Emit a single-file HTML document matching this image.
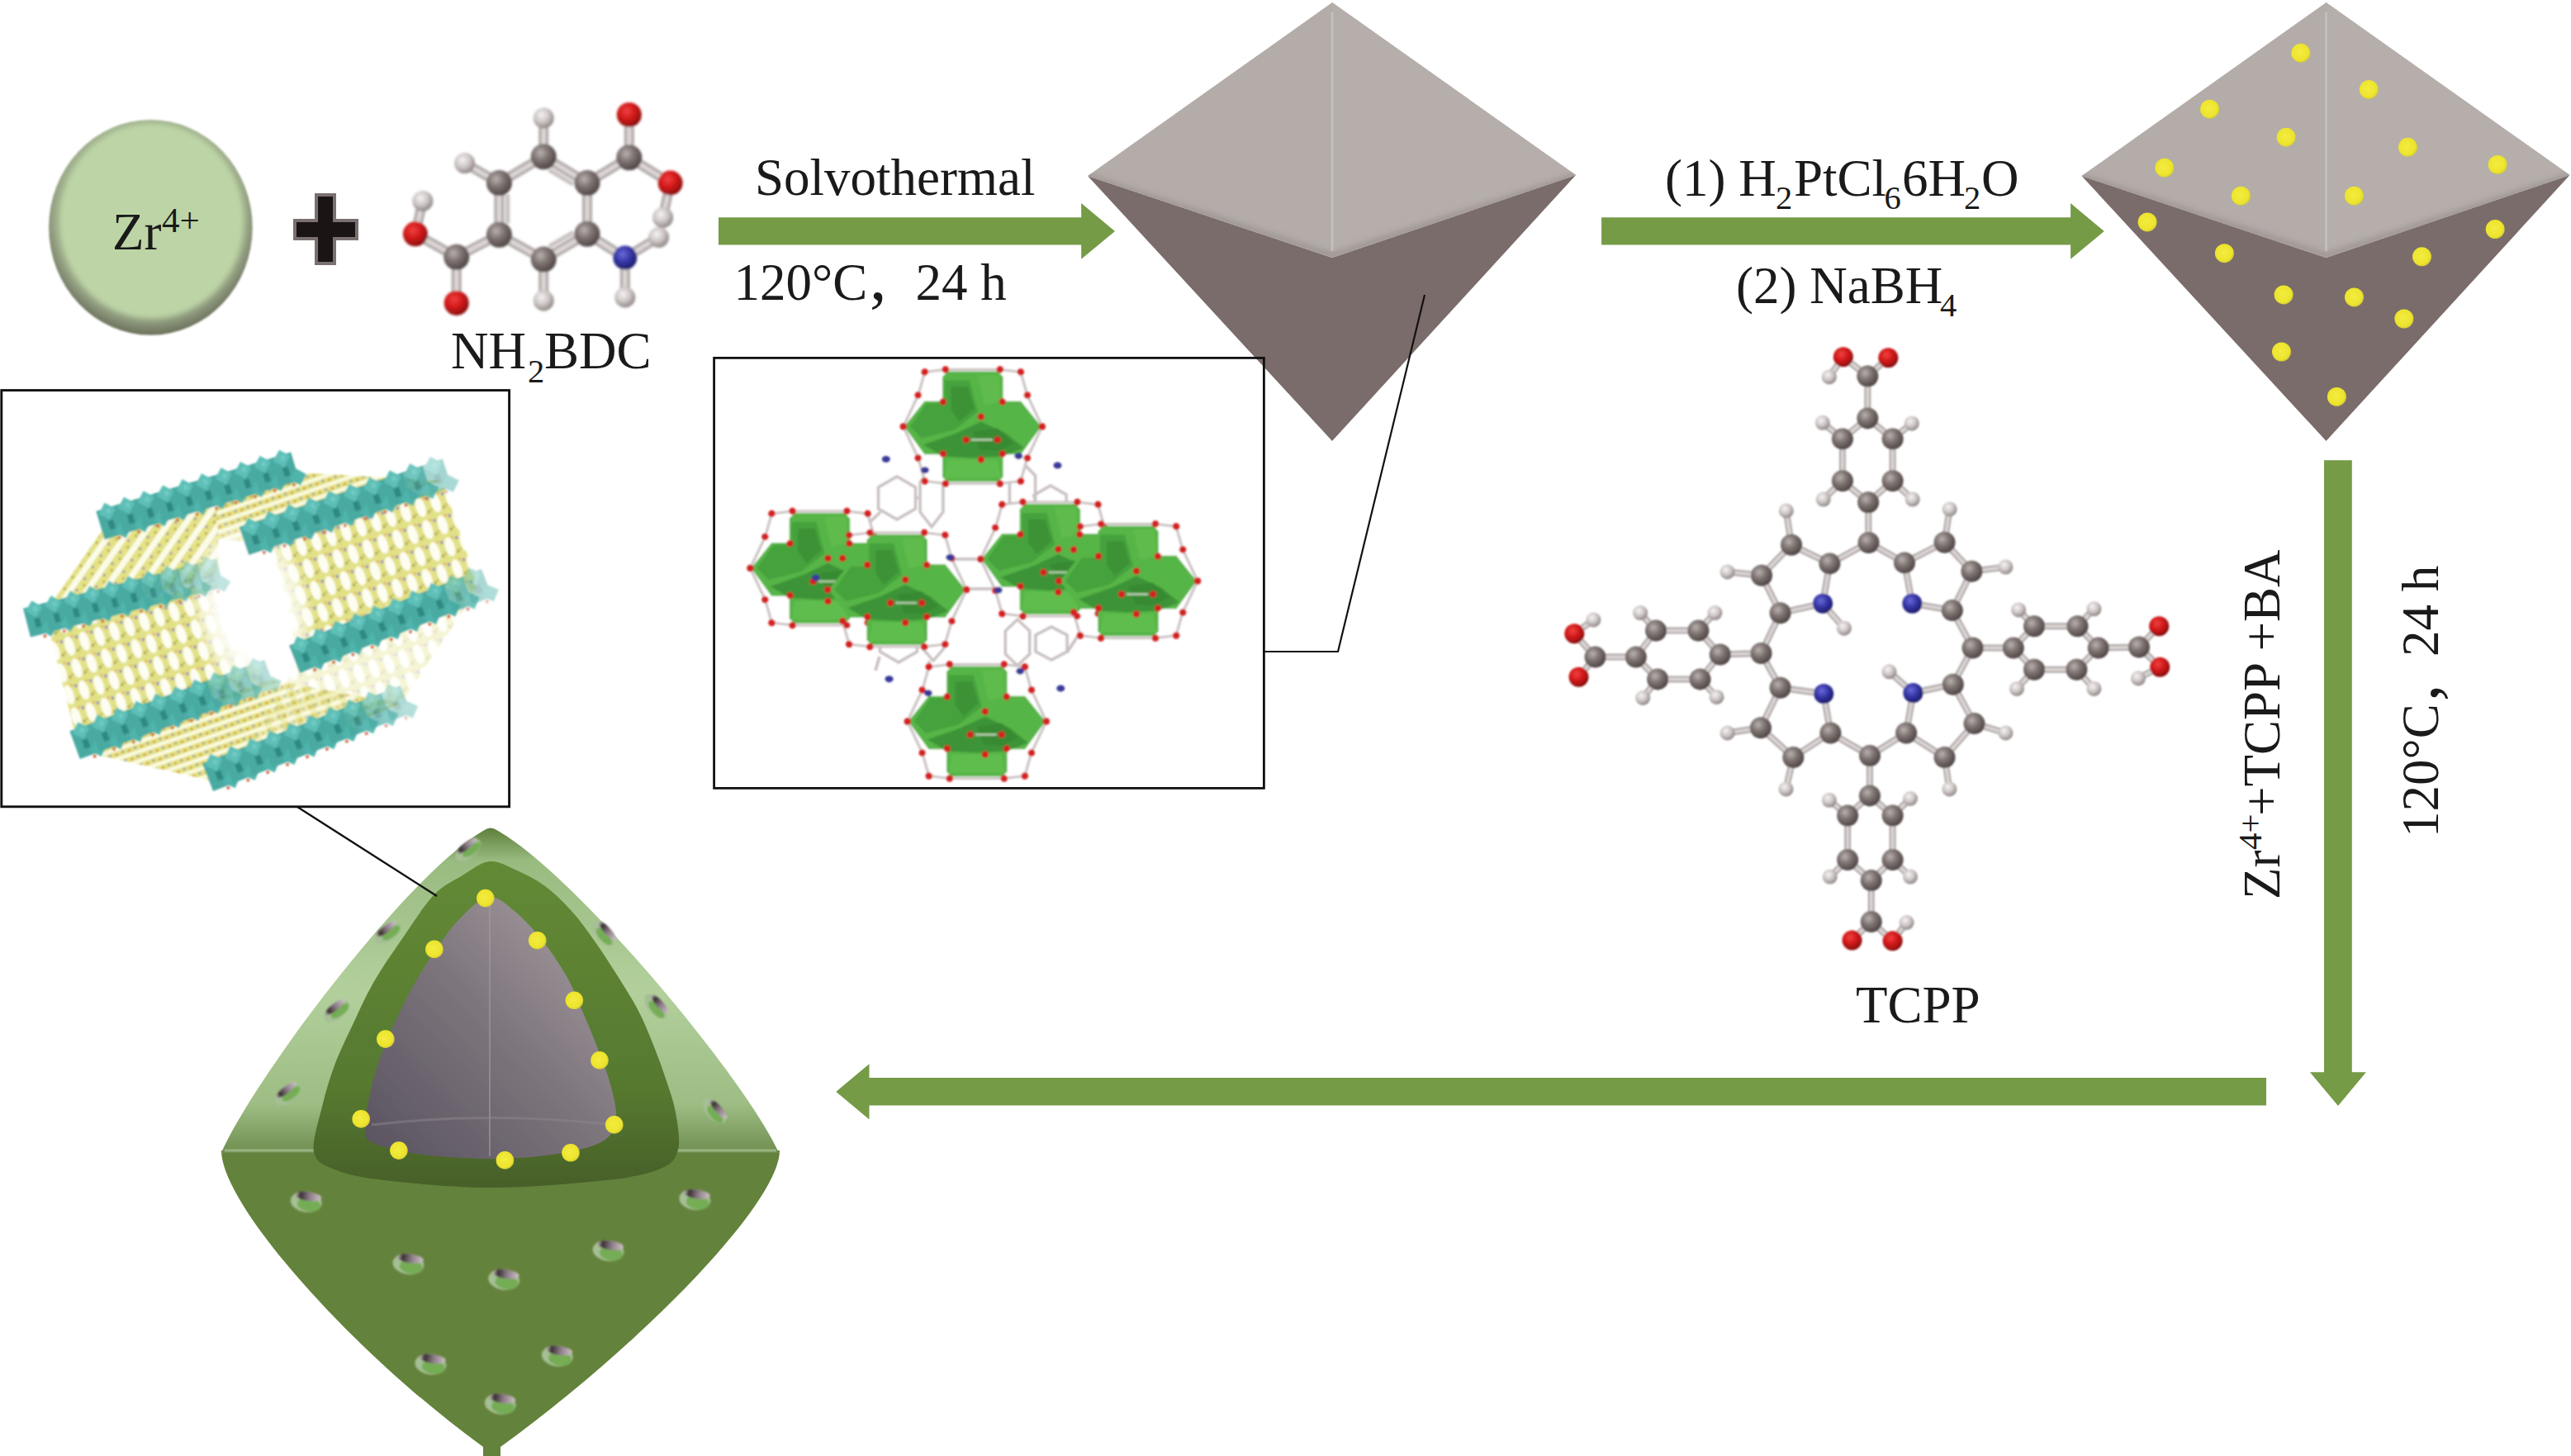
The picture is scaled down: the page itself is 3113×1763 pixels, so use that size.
<!DOCTYPE html>
<html><head><meta charset="utf-8"><title>Pt@UiO-66-NH2@MOF scheme</title>
<style>html,body{margin:0;padding:0;background:#fff;width:3113px;height:1763px;overflow:hidden}svg{display:block}</style>
</head><body>
<svg width="3113" height="1763" viewBox="0 0 3113 1763">
<defs>
 <radialGradient id="gC" cx="0.38" cy="0.35" r="0.7">
  <stop offset="0" stop-color="#b9b1b0"/><stop offset="0.45" stop-color="#7d7371"/><stop offset="1" stop-color="#4a4040"/>
 </radialGradient>
 <radialGradient id="gH" cx="0.4" cy="0.35" r="0.7">
  <stop offset="0" stop-color="#f6f4f4"/><stop offset="0.5" stop-color="#cdc6c5"/><stop offset="1" stop-color="#857d7c"/>
 </radialGradient>
 <radialGradient id="gO" cx="0.4" cy="0.35" r="0.7">
  <stop offset="0" stop-color="#f04040"/><stop offset="0.5" stop-color="#d01818"/><stop offset="1" stop-color="#7a0c0c"/>
 </radialGradient>
 <radialGradient id="gN" cx="0.4" cy="0.35" r="0.7">
  <stop offset="0" stop-color="#6a6ad8"/><stop offset="0.5" stop-color="#3434a4"/><stop offset="1" stop-color="#1a1a60"/>
 </radialGradient>
 <radialGradient id="gY" cx="0.45" cy="0.45" r="0.6">
  <stop offset="0" stop-color="#f4ec40"/><stop offset="0.75" stop-color="#ece42c"/><stop offset="1" stop-color="#c8c040"/>
 </radialGradient>
 <radialGradient id="gZr" cx="0.5" cy="0.42" r="0.56">
  <stop offset="0" stop-color="#bdd5a6"/><stop offset="0.86" stop-color="#bbd3a4"/><stop offset="0.95" stop-color="#8d9c7a"/><stop offset="1" stop-color="#ffffff" stop-opacity="0"/>
 </radialGradient>
 <linearGradient id="gUL" x1="0" y1="0" x2="1" y2="1">
  <stop offset="0" stop-color="#b4adaa"/><stop offset="1" stop-color="#aea6a4"/>
 </linearGradient>
 <filter id="blur1" x="-10%" y="-10%" width="120%" height="120%"><feGaussianBlur stdDeviation="1.2"/></filter>
 <filter id="blur2" x="-20%" y="-20%" width="140%" height="140%"><feGaussianBlur stdDeviation="3"/></filter>
 <filter id="blur05"><feGaussianBlur stdDeviation="0.7"/></filter>
 <filter id="blur15" x="-10%" y="-10%" width="120%" height="120%"><feGaussianBlur stdDeviation="1.6"/></filter>
</defs>
<radialGradient id="gZrO" cx="0.5" cy="0.45" r="0.55"><stop offset="0.72" stop-color="#b6cea1"/><stop offset="0.86" stop-color="#9aa888"/><stop offset="0.95" stop-color="#7b836b"/><stop offset="1" stop-color="#6c725a"/></radialGradient><g filter="url(#blur1)"><ellipse cx="182.4" cy="275.4" rx="123.3" ry="130.4" fill="url(#gZrO)"/></g><filter id="blurZ" x="-20%" y="-20%" width="140%" height="140%"><feGaussianBlur stdDeviation="3"/></filter><g filter="url(#blurZ)"><ellipse cx="183.5" cy="268" rx="111" ry="117" fill="#bdd5a6"/></g><text x="136.0" y="302.0" font-size="63" font-family="'Liberation Serif', serif" fill="#1a1a1a" >Zr</text><text x="196.0" y="280.5" font-size="43" font-family="'Liberation Serif', serif" fill="#1a1a1a" >4+</text><rect x="381" y="234" width="26" height="87" fill="#7a7070"/><rect x="355" y="265" width="79" height="26" fill="#7a7070"/><rect x="385" y="238" width="18" height="79" fill="#1a1414"/><rect x="359" y="269" width="71" height="18" fill="#1a1414"/><g filter="url(#blur15)"><line x1="658.2" y1="189.7" x2="604.4" y2="221.5" stroke="#b0a8a8" stroke-width="12.0"/><line x1="658.2" y1="189.7" x2="604.4" y2="221.5" stroke="#dcd6d5" stroke-width="5.4"/><line x1="658.2" y1="189.7" x2="711.0" y2="221.5" stroke="#b0a8a8" stroke-width="12.0"/><line x1="658.2" y1="189.7" x2="711.0" y2="221.5" stroke="#dcd6d5" stroke-width="5.4"/><line x1="604.4" y1="221.5" x2="604.4" y2="284.3" stroke="#b0a8a8" stroke-width="12.0"/><line x1="604.4" y1="221.5" x2="604.4" y2="284.3" stroke="#dcd6d5" stroke-width="5.4"/><line x1="711.0" y1="221.5" x2="711.0" y2="283.3" stroke="#b0a8a8" stroke-width="12.0"/><line x1="711.0" y1="221.5" x2="711.0" y2="283.3" stroke="#dcd6d5" stroke-width="5.4"/><line x1="604.4" y1="284.3" x2="658.2" y2="314.1" stroke="#b0a8a8" stroke-width="12.0"/><line x1="604.4" y1="284.3" x2="658.2" y2="314.1" stroke="#dcd6d5" stroke-width="5.4"/><line x1="711.0" y1="283.3" x2="658.2" y2="314.1" stroke="#b0a8a8" stroke-width="12.0"/><line x1="711.0" y1="283.3" x2="658.2" y2="314.1" stroke="#dcd6d5" stroke-width="5.4"/><line x1="658.2" y1="189.7" x2="658.2" y2="142.9" stroke="#b0a8a8" stroke-width="12.0"/><line x1="658.2" y1="189.7" x2="658.2" y2="142.9" stroke="#dcd6d5" stroke-width="5.4"/><line x1="604.4" y1="221.5" x2="562.6" y2="197.6" stroke="#b0a8a8" stroke-width="12.0"/><line x1="604.4" y1="221.5" x2="562.6" y2="197.6" stroke="#dcd6d5" stroke-width="5.4"/><line x1="711.0" y1="221.5" x2="761.8" y2="190.7" stroke="#b0a8a8" stroke-width="12.0"/><line x1="711.0" y1="221.5" x2="761.8" y2="190.7" stroke="#dcd6d5" stroke-width="5.4"/><line x1="761.8" y1="190.7" x2="761.8" y2="138.9" stroke="#b0a8a8" stroke-width="12.0"/><line x1="761.8" y1="190.7" x2="761.8" y2="138.9" stroke="#dcd6d5" stroke-width="5.4"/><line x1="761.8" y1="190.7" x2="811.6" y2="221.5" stroke="#b0a8a8" stroke-width="12.0"/><line x1="761.8" y1="190.7" x2="811.6" y2="221.5" stroke="#dcd6d5" stroke-width="5.4"/><line x1="811.6" y1="221.5" x2="802.6" y2="263.4" stroke="#b0a8a8" stroke-width="12.0"/><line x1="811.6" y1="221.5" x2="802.6" y2="263.4" stroke="#dcd6d5" stroke-width="5.4"/><line x1="711.0" y1="283.3" x2="756.8" y2="312.1" stroke="#b0a8a8" stroke-width="12.0"/><line x1="711.0" y1="283.3" x2="756.8" y2="312.1" stroke="#dcd6d5" stroke-width="5.4"/><line x1="756.8" y1="312.1" x2="797.6" y2="287.3" stroke="#b0a8a8" stroke-width="12.0"/><line x1="756.8" y1="312.1" x2="797.6" y2="287.3" stroke="#dcd6d5" stroke-width="5.4"/><line x1="756.8" y1="312.1" x2="756.8" y2="360.0" stroke="#b0a8a8" stroke-width="12.0"/><line x1="756.8" y1="312.1" x2="756.8" y2="360.0" stroke="#dcd6d5" stroke-width="5.4"/><line x1="658.2" y1="314.1" x2="658.2" y2="363.9" stroke="#b0a8a8" stroke-width="12.0"/><line x1="658.2" y1="314.1" x2="658.2" y2="363.9" stroke="#dcd6d5" stroke-width="5.4"/><line x1="604.4" y1="284.3" x2="552.7" y2="311.2" stroke="#b0a8a8" stroke-width="12.0"/><line x1="604.4" y1="284.3" x2="552.7" y2="311.2" stroke="#dcd6d5" stroke-width="5.4"/><line x1="552.7" y1="311.2" x2="552.7" y2="366.9" stroke="#b0a8a8" stroke-width="12.0"/><line x1="552.7" y1="311.2" x2="552.7" y2="366.9" stroke="#dcd6d5" stroke-width="5.4"/><line x1="552.7" y1="311.2" x2="502.9" y2="283.3" stroke="#b0a8a8" stroke-width="12.0"/><line x1="552.7" y1="311.2" x2="502.9" y2="283.3" stroke="#dcd6d5" stroke-width="5.4"/><line x1="502.9" y1="283.3" x2="511.8" y2="243.4" stroke="#b0a8a8" stroke-width="12.0"/><line x1="502.9" y1="283.3" x2="511.8" y2="243.4" stroke="#dcd6d5" stroke-width="5.4"/><line x1="664.6" y1="205.4" x2="694.1" y2="223.2" stroke="#c9c2c2" stroke-width="5.4"/><line x1="614.6" y1="235.3" x2="614.6" y2="270.5" stroke="#c9c2c2" stroke-width="5.4"/><line x1="694.2" y1="281.3" x2="664.7" y2="298.5" stroke="#c9c2c2" stroke-width="5.4"/><circle cx="761.8" cy="138.9" r="15.0" fill="url(#gO)"/><circle cx="761.8" cy="190.7" r="15.5" fill="url(#gC)"/><circle cx="811.6" cy="221.5" r="15.0" fill="url(#gO)"/><circle cx="802.6" cy="263.4" r="12.5" fill="url(#gH)"/><circle cx="658.2" cy="189.7" r="15.5" fill="url(#gC)"/><circle cx="658.2" cy="142.9" r="12.5" fill="url(#gH)"/><circle cx="604.4" cy="221.5" r="15.5" fill="url(#gC)"/><circle cx="562.6" cy="197.6" r="12.5" fill="url(#gH)"/><circle cx="711.0" cy="221.5" r="15.5" fill="url(#gC)"/><circle cx="604.4" cy="284.3" r="15.5" fill="url(#gC)"/><circle cx="711.0" cy="283.3" r="15.5" fill="url(#gC)"/><circle cx="658.2" cy="314.1" r="15.5" fill="url(#gC)"/><circle cx="658.2" cy="363.9" r="12.5" fill="url(#gH)"/><circle cx="756.8" cy="312.1" r="14.5" fill="url(#gN)"/><circle cx="797.6" cy="287.3" r="12.5" fill="url(#gH)"/><circle cx="756.8" cy="360.0" r="12.5" fill="url(#gH)"/><circle cx="552.7" cy="311.2" r="15.5" fill="url(#gC)"/><circle cx="552.7" cy="366.9" r="15.0" fill="url(#gO)"/><circle cx="502.9" cy="283.3" r="15.0" fill="url(#gO)"/><circle cx="511.8" cy="243.4" r="12.5" fill="url(#gH)"/></g><text x="546.0" y="446.0" font-size="63" font-family="'Liberation Serif', serif" fill="#1a1a1a" >NH</text><text x="639.0" y="462.5" font-size="40.5" font-family="'Liberation Serif', serif" fill="#1a1a1a" >2</text><text x="659.0" y="446.0" font-size="63" font-family="'Liberation Serif', serif" fill="#1a1a1a" >BDC</text><polygon points="870.0,263.2 1309.2,263.2 1309.2,246.1 1350.0,280.0 1309.2,313.8 1309.2,296.5 870.0,296.5" fill="#759b46" /><polygon points="1939.1,263.2 2507.1,263.2 2507.1,246.1 2547.7,280.0 2507.1,313.8 2507.1,296.6 1939.1,296.6" fill="#759b46" /><polygon points="2814.0,557.3 2847.8,557.3 2847.8,1298.3 2864.9,1298.3 2831.0,1339.0 2796.9,1298.3 2814.0,1298.3" fill="#759b46" /><polygon points="2744.0,1305.1 1052.5,1305.1 1052.5,1288.2 1012.3,1321.9 1052.5,1355.5 1052.5,1338.5 2744.0,1338.5" fill="#759b46" /><text x="914.0" y="236.0" font-size="63" font-family="'Liberation Serif', serif" fill="#1a1a1a" >Solvothermal</text><text x="888.5" y="363.0" font-size="63" font-family="'Liberation Serif', serif" fill="#1a1a1a" >120°C</text><text x="1053.0" y="363.0" font-size="82" font-family="'Liberation Serif', serif" fill="#1a1a1a" >,</text><text x="1108.5" y="363.0" font-size="63" font-family="'Liberation Serif', serif" fill="#1a1a1a" >24 h</text><text x="2016.0" y="237.0" font-size="63" font-family="'Liberation Serif', serif" fill="#1a1a1a" >(1) H</text><text x="2150.0" y="253.4" font-size="40.5" font-family="'Liberation Serif', serif" fill="#1a1a1a" >2</text><text x="2172.0" y="237.0" font-size="63" font-family="'Liberation Serif', serif" fill="#1a1a1a" >PtCl</text><text x="2281.5" y="253.4" font-size="40.5" font-family="'Liberation Serif', serif" fill="#1a1a1a" >6</text><text x="2303.0" y="237.0" font-size="63" font-family="'Liberation Serif', serif" fill="#1a1a1a" >6H</text><text x="2378.0" y="253.4" font-size="40.5" font-family="'Liberation Serif', serif" fill="#1a1a1a" >2</text><text x="2399.0" y="237.0" font-size="63" font-family="'Liberation Serif', serif" fill="#1a1a1a" >O</text><text x="2102.0" y="367.0" font-size="63" font-family="'Liberation Serif', serif" fill="#1a1a1a" >(2) NaBH</text><text x="2349.0" y="382.6" font-size="40.5" font-family="'Liberation Serif', serif" fill="#1a1a1a" >4</text><g transform="translate(2759.6,1089) rotate(-90)"><text x="0.0" y="0.0" font-size="63" font-family="'Liberation Serif', serif" fill="#1a1a1a" >Zr</text><text x="60.0" y="-22.0" font-size="41" font-family="'Liberation Serif', serif" fill="#1a1a1a" >4+</text><text x="101.0" y="0.0" font-size="63" font-family="'Liberation Serif', serif" fill="#1a1a1a" >+TCPP +BA</text></g><g transform="translate(2951.9,1014) rotate(-90)"><text x="0.0" y="0.0" font-size="63" font-family="'Liberation Serif', serif" fill="#1a1a1a" >120°C</text><text x="165.0" y="0.0" font-size="82" font-family="'Liberation Serif', serif" fill="#1a1a1a" >,</text><text x="219.0" y="0.0" font-size="63" font-family="'Liberation Serif', serif" fill="#1a1a1a" >24 h</text></g><text x="2247.0" y="1238.0" font-size="63" font-family="'Liberation Serif', serif" fill="#1a1a1a" >TCPP</text><clipPath id="oc0"><polygon points="1613.0,3.0 1317.0,213.0 1613.0,312.0 1908.0,212.0"/></clipPath><polygon points="1317.0,213.0 1613.0,312.0 1908.0,212.0 1613.0,534.0" fill="#7a6c6a" /><polygon points="1613.0,3.0 1317.0,213.0 1613.0,312.0 1908.0,212.0" fill="#b3aca9" /><polygon points="1613.0,3.0 1613.0,312.0 1908.0,212.0" fill="#b5aeab" /><g clip-path="url(#oc0)"><polyline points="1307.0,211.0 1613.0,310.0 1918.0,210.0" fill="none" stroke="#9e9592" stroke-width="8" filter="url(#blur2)" opacity="0.9"/></g><line x1="1613.0" y1="15.0" x2="1613.0" y2="304.0" stroke="#c6c0be" stroke-width="2.6"/><clipPath id="oc1203"><polygon points="2816.5,3.0 2520.5,213.0 2816.5,312.0 3111.5,212.0"/></clipPath><polygon points="2520.5,213.0 2816.5,312.0 3111.5,212.0 2816.5,534.0" fill="#7a6c6a" /><polygon points="2816.5,3.0 2520.5,213.0 2816.5,312.0 3111.5,212.0" fill="#b3aca9" /><polygon points="2816.5,3.0 2816.5,312.0 3111.5,212.0" fill="#b5aeab" /><g clip-path="url(#oc1203)"><polyline points="2510.5,211.0 2816.5,310.0 3121.5,210.0" fill="none" stroke="#9e9592" stroke-width="8" filter="url(#blur2)" opacity="0.9"/></g><line x1="2816.5" y1="15.0" x2="2816.5" y2="304.0" stroke="#c6c0be" stroke-width="2.6"/><circle cx="2785.9" cy="64.2" r="11.5" fill="url(#gY)"/><circle cx="2868.3" cy="108.4" r="11.5" fill="url(#gY)"/><circle cx="2675.6" cy="132.2" r="11.5" fill="url(#gY)"/><circle cx="2768.2" cy="166.2" r="11.5" fill="url(#gY)"/><circle cx="2915.5" cy="178.3" r="11.5" fill="url(#gY)"/><circle cx="2620.9" cy="203.2" r="11.5" fill="url(#gY)"/><circle cx="3024.2" cy="199.4" r="11.5" fill="url(#gY)"/><circle cx="2713.4" cy="237.2" r="11.5" fill="url(#gY)"/><circle cx="2850.5" cy="237.2" r="11.5" fill="url(#gY)"/><circle cx="2600.1" cy="268.9" r="11.5" fill="url(#gY)"/><circle cx="3021.2" cy="277.6" r="11.5" fill="url(#gY)"/><circle cx="2693.4" cy="306.7" r="11.5" fill="url(#gY)"/><circle cx="2932.5" cy="310.8" r="11.5" fill="url(#gY)"/><circle cx="2765.1" cy="356.9" r="11.5" fill="url(#gY)"/><circle cx="2850.5" cy="359.9" r="11.5" fill="url(#gY)"/><circle cx="2910.9" cy="386.0" r="11.5" fill="url(#gY)"/><circle cx="2762.5" cy="426.0" r="11.5" fill="url(#gY)"/><circle cx="2829.4" cy="480.4" r="11.5" fill="url(#gY)"/><rect x="864.6" y="433.4" width="665.8" height="521" fill="none" stroke="#111" stroke-width="2.8"/><polyline points="1530.5,789 1620,789 1725,357" fill="none" stroke="#111" stroke-width="2.2"/><rect x="1.8" y="472.6" width="614.8" height="504.2" fill="none" stroke="#111" stroke-width="2.9"/><g filter="url(#blur1)"><line x1="2231.8" y1="432.3" x2="2261.3" y2="455.5" stroke="#b0a8a8" stroke-width="8.0"/><line x1="2231.8" y1="432.3" x2="2261.3" y2="455.5" stroke="#dcd6d5" stroke-width="3.6"/><line x1="2261.3" y1="455.5" x2="2286.3" y2="433.2" stroke="#b0a8a8" stroke-width="8.0"/><line x1="2261.3" y1="455.5" x2="2286.3" y2="433.2" stroke="#dcd6d5" stroke-width="3.6"/><line x1="2231.8" y1="432.3" x2="2214.8" y2="456.4" stroke="#b0a8a8" stroke-width="8.0"/><line x1="2231.8" y1="432.3" x2="2214.8" y2="456.4" stroke="#dcd6d5" stroke-width="3.6"/><line x1="2261.3" y1="455.5" x2="2261.3" y2="506.4" stroke="#b0a8a8" stroke-width="8.0"/><line x1="2261.3" y1="455.5" x2="2261.3" y2="506.4" stroke="#dcd6d5" stroke-width="3.6"/><line x1="2261.3" y1="506.4" x2="2230.9" y2="531.4" stroke="#b0a8a8" stroke-width="8.0"/><line x1="2261.3" y1="506.4" x2="2230.9" y2="531.4" stroke="#dcd6d5" stroke-width="3.6"/><line x1="2230.9" y1="531.4" x2="2230.9" y2="582.3" stroke="#b0a8a8" stroke-width="8.0"/><line x1="2230.9" y1="531.4" x2="2230.9" y2="582.3" stroke="#dcd6d5" stroke-width="3.6"/><line x1="2230.9" y1="582.3" x2="2262.1" y2="608.2" stroke="#b0a8a8" stroke-width="8.0"/><line x1="2230.9" y1="582.3" x2="2262.1" y2="608.2" stroke="#dcd6d5" stroke-width="3.6"/><line x1="2262.1" y1="608.2" x2="2291.6" y2="582.3" stroke="#b0a8a8" stroke-width="8.0"/><line x1="2262.1" y1="608.2" x2="2291.6" y2="582.3" stroke="#dcd6d5" stroke-width="3.6"/><line x1="2291.6" y1="582.3" x2="2291.6" y2="531.4" stroke="#b0a8a8" stroke-width="8.0"/><line x1="2291.6" y1="582.3" x2="2291.6" y2="531.4" stroke="#dcd6d5" stroke-width="3.6"/><line x1="2291.6" y1="531.4" x2="2261.3" y2="506.4" stroke="#b0a8a8" stroke-width="8.0"/><line x1="2291.6" y1="531.4" x2="2261.3" y2="506.4" stroke="#dcd6d5" stroke-width="3.6"/><line x1="2230.9" y1="531.4" x2="2206.8" y2="511.8" stroke="#b0a8a8" stroke-width="8.0"/><line x1="2230.9" y1="531.4" x2="2206.8" y2="511.8" stroke="#dcd6d5" stroke-width="3.6"/><line x1="2291.6" y1="531.4" x2="2314.8" y2="512.7" stroke="#b0a8a8" stroke-width="8.0"/><line x1="2291.6" y1="531.4" x2="2314.8" y2="512.7" stroke="#dcd6d5" stroke-width="3.6"/><line x1="2230.9" y1="582.3" x2="2207.7" y2="604.6" stroke="#b0a8a8" stroke-width="8.0"/><line x1="2230.9" y1="582.3" x2="2207.7" y2="604.6" stroke="#dcd6d5" stroke-width="3.6"/><line x1="2291.6" y1="582.3" x2="2315.7" y2="604.6" stroke="#b0a8a8" stroke-width="8.0"/><line x1="2291.6" y1="582.3" x2="2315.7" y2="604.6" stroke="#dcd6d5" stroke-width="3.6"/><line x1="2262.1" y1="608.2" x2="2262.5" y2="657.0" stroke="#b0a8a8" stroke-width="8.0"/><line x1="2262.1" y1="608.2" x2="2262.5" y2="657.0" stroke="#dcd6d5" stroke-width="3.6"/><line x1="1906.3" y1="767.3" x2="1931.5" y2="795.6" stroke="#b0a8a8" stroke-width="8.0"/><line x1="1906.3" y1="767.3" x2="1931.5" y2="795.6" stroke="#dcd6d5" stroke-width="3.6"/><line x1="1931.5" y1="795.6" x2="1911.5" y2="819.8" stroke="#b0a8a8" stroke-width="8.0"/><line x1="1931.5" y1="795.6" x2="1911.5" y2="819.8" stroke="#dcd6d5" stroke-width="3.6"/><line x1="1906.3" y1="767.3" x2="1929.4" y2="750.5" stroke="#b0a8a8" stroke-width="8.0"/><line x1="1906.3" y1="767.3" x2="1929.4" y2="750.5" stroke="#dcd6d5" stroke-width="3.6"/><line x1="1931.5" y1="795.6" x2="1980.8" y2="795.6" stroke="#b0a8a8" stroke-width="8.0"/><line x1="1931.5" y1="795.6" x2="1980.8" y2="795.6" stroke="#dcd6d5" stroke-width="3.6"/><line x1="1980.8" y1="795.6" x2="2005.0" y2="763.6" stroke="#b0a8a8" stroke-width="8.0"/><line x1="1980.8" y1="795.6" x2="2005.0" y2="763.6" stroke="#dcd6d5" stroke-width="3.6"/><line x1="2005.0" y1="763.6" x2="2056.4" y2="763.6" stroke="#b0a8a8" stroke-width="8.0"/><line x1="2005.0" y1="763.6" x2="2056.4" y2="763.6" stroke="#dcd6d5" stroke-width="3.6"/><line x1="2056.4" y1="763.6" x2="2082.7" y2="792.5" stroke="#b0a8a8" stroke-width="8.0"/><line x1="2056.4" y1="763.6" x2="2082.7" y2="792.5" stroke="#dcd6d5" stroke-width="3.6"/><line x1="2082.7" y1="792.5" x2="2058.5" y2="822.4" stroke="#b0a8a8" stroke-width="8.0"/><line x1="2082.7" y1="792.5" x2="2058.5" y2="822.4" stroke="#dcd6d5" stroke-width="3.6"/><line x1="2058.5" y1="822.4" x2="2007.1" y2="822.4" stroke="#b0a8a8" stroke-width="8.0"/><line x1="2058.5" y1="822.4" x2="2007.1" y2="822.4" stroke="#dcd6d5" stroke-width="3.6"/><line x1="2007.1" y1="822.4" x2="1980.8" y2="795.6" stroke="#b0a8a8" stroke-width="8.0"/><line x1="2007.1" y1="822.4" x2="1980.8" y2="795.6" stroke="#dcd6d5" stroke-width="3.6"/><line x1="2005.0" y1="763.6" x2="1986.1" y2="742.1" stroke="#b0a8a8" stroke-width="8.0"/><line x1="2005.0" y1="763.6" x2="1986.1" y2="742.1" stroke="#dcd6d5" stroke-width="3.6"/><line x1="2056.4" y1="763.6" x2="2076.4" y2="742.1" stroke="#b0a8a8" stroke-width="8.0"/><line x1="2056.4" y1="763.6" x2="2076.4" y2="742.1" stroke="#dcd6d5" stroke-width="3.6"/><line x1="2007.1" y1="822.4" x2="1989.2" y2="845.0" stroke="#b0a8a8" stroke-width="8.0"/><line x1="2007.1" y1="822.4" x2="1989.2" y2="845.0" stroke="#dcd6d5" stroke-width="3.6"/><line x1="2058.5" y1="822.4" x2="2078.5" y2="843.9" stroke="#b0a8a8" stroke-width="8.0"/><line x1="2058.5" y1="822.4" x2="2078.5" y2="843.9" stroke="#dcd6d5" stroke-width="3.6"/><line x1="2082.7" y1="792.5" x2="2132.5" y2="791.0" stroke="#b0a8a8" stroke-width="8.0"/><line x1="2082.7" y1="792.5" x2="2132.5" y2="791.0" stroke="#dcd6d5" stroke-width="3.6"/><line x1="2614.2" y1="758.3" x2="2590.0" y2="783.5" stroke="#b0a8a8" stroke-width="8.0"/><line x1="2614.2" y1="758.3" x2="2590.0" y2="783.5" stroke="#dcd6d5" stroke-width="3.6"/><line x1="2590.0" y1="783.5" x2="2615.2" y2="807.7" stroke="#b0a8a8" stroke-width="8.0"/><line x1="2590.0" y1="783.5" x2="2615.2" y2="807.7" stroke="#dcd6d5" stroke-width="3.6"/><line x1="2615.2" y1="807.7" x2="2589.0" y2="821.3" stroke="#b0a8a8" stroke-width="8.0"/><line x1="2615.2" y1="807.7" x2="2589.0" y2="821.3" stroke="#dcd6d5" stroke-width="3.6"/><line x1="2590.0" y1="783.5" x2="2540.7" y2="784.6" stroke="#b0a8a8" stroke-width="8.0"/><line x1="2590.0" y1="783.5" x2="2540.7" y2="784.6" stroke="#dcd6d5" stroke-width="3.6"/><line x1="2540.7" y1="784.6" x2="2515.5" y2="758.3" stroke="#b0a8a8" stroke-width="8.0"/><line x1="2540.7" y1="784.6" x2="2515.5" y2="758.3" stroke="#dcd6d5" stroke-width="3.6"/><line x1="2515.5" y1="758.3" x2="2463.0" y2="758.3" stroke="#b0a8a8" stroke-width="8.0"/><line x1="2515.5" y1="758.3" x2="2463.0" y2="758.3" stroke="#dcd6d5" stroke-width="3.6"/><line x1="2463.0" y1="758.3" x2="2437.8" y2="784.6" stroke="#b0a8a8" stroke-width="8.0"/><line x1="2463.0" y1="758.3" x2="2437.8" y2="784.6" stroke="#dcd6d5" stroke-width="3.6"/><line x1="2437.8" y1="784.6" x2="2463.0" y2="810.8" stroke="#b0a8a8" stroke-width="8.0"/><line x1="2437.8" y1="784.6" x2="2463.0" y2="810.8" stroke="#dcd6d5" stroke-width="3.6"/><line x1="2463.0" y1="810.8" x2="2514.4" y2="810.8" stroke="#b0a8a8" stroke-width="8.0"/><line x1="2463.0" y1="810.8" x2="2514.4" y2="810.8" stroke="#dcd6d5" stroke-width="3.6"/><line x1="2514.4" y1="810.8" x2="2540.7" y2="784.6" stroke="#b0a8a8" stroke-width="8.0"/><line x1="2514.4" y1="810.8" x2="2540.7" y2="784.6" stroke="#dcd6d5" stroke-width="3.6"/><line x1="2463.0" y1="758.3" x2="2444.1" y2="738.4" stroke="#b0a8a8" stroke-width="8.0"/><line x1="2463.0" y1="758.3" x2="2444.1" y2="738.4" stroke="#dcd6d5" stroke-width="3.6"/><line x1="2515.5" y1="758.3" x2="2535.4" y2="737.3" stroke="#b0a8a8" stroke-width="8.0"/><line x1="2515.5" y1="758.3" x2="2535.4" y2="737.3" stroke="#dcd6d5" stroke-width="3.6"/><line x1="2463.0" y1="810.8" x2="2442.0" y2="833.9" stroke="#b0a8a8" stroke-width="8.0"/><line x1="2463.0" y1="810.8" x2="2442.0" y2="833.9" stroke="#dcd6d5" stroke-width="3.6"/><line x1="2514.4" y1="810.8" x2="2535.4" y2="833.9" stroke="#b0a8a8" stroke-width="8.0"/><line x1="2514.4" y1="810.8" x2="2535.4" y2="833.9" stroke="#dcd6d5" stroke-width="3.6"/><line x1="2437.8" y1="784.6" x2="2388.5" y2="784.5" stroke="#b0a8a8" stroke-width="8.0"/><line x1="2437.8" y1="784.6" x2="2388.5" y2="784.5" stroke="#dcd6d5" stroke-width="3.6"/><line x1="2242.5" y1="1138.4" x2="2265.7" y2="1116.1" stroke="#b0a8a8" stroke-width="8.0"/><line x1="2242.5" y1="1138.4" x2="2265.7" y2="1116.1" stroke="#dcd6d5" stroke-width="3.6"/><line x1="2265.7" y1="1116.1" x2="2291.6" y2="1139.3" stroke="#b0a8a8" stroke-width="8.0"/><line x1="2265.7" y1="1116.1" x2="2291.6" y2="1139.3" stroke="#dcd6d5" stroke-width="3.6"/><line x1="2291.6" y1="1139.3" x2="2308.6" y2="1117.0" stroke="#b0a8a8" stroke-width="8.0"/><line x1="2291.6" y1="1139.3" x2="2308.6" y2="1117.0" stroke="#dcd6d5" stroke-width="3.6"/><line x1="2265.7" y1="1116.1" x2="2265.7" y2="1066.1" stroke="#b0a8a8" stroke-width="8.0"/><line x1="2265.7" y1="1116.1" x2="2265.7" y2="1066.1" stroke="#dcd6d5" stroke-width="3.6"/><line x1="2265.7" y1="1066.1" x2="2237.1" y2="1041.1" stroke="#b0a8a8" stroke-width="8.0"/><line x1="2265.7" y1="1066.1" x2="2237.1" y2="1041.1" stroke="#dcd6d5" stroke-width="3.6"/><line x1="2237.1" y1="1041.1" x2="2237.1" y2="987.5" stroke="#b0a8a8" stroke-width="8.0"/><line x1="2237.1" y1="1041.1" x2="2237.1" y2="987.5" stroke="#dcd6d5" stroke-width="3.6"/><line x1="2237.1" y1="987.5" x2="2263.9" y2="963.4" stroke="#b0a8a8" stroke-width="8.0"/><line x1="2237.1" y1="987.5" x2="2263.9" y2="963.4" stroke="#dcd6d5" stroke-width="3.6"/><line x1="2263.9" y1="963.4" x2="2291.6" y2="987.5" stroke="#b0a8a8" stroke-width="8.0"/><line x1="2263.9" y1="963.4" x2="2291.6" y2="987.5" stroke="#dcd6d5" stroke-width="3.6"/><line x1="2291.6" y1="987.5" x2="2291.6" y2="1041.1" stroke="#b0a8a8" stroke-width="8.0"/><line x1="2291.6" y1="987.5" x2="2291.6" y2="1041.1" stroke="#dcd6d5" stroke-width="3.6"/><line x1="2291.6" y1="1041.1" x2="2265.7" y2="1066.1" stroke="#b0a8a8" stroke-width="8.0"/><line x1="2291.6" y1="1041.1" x2="2265.7" y2="1066.1" stroke="#dcd6d5" stroke-width="3.6"/><line x1="2237.1" y1="987.5" x2="2214.8" y2="968.8" stroke="#b0a8a8" stroke-width="8.0"/><line x1="2237.1" y1="987.5" x2="2214.8" y2="968.8" stroke="#dcd6d5" stroke-width="3.6"/><line x1="2291.6" y1="987.5" x2="2313.0" y2="967.0" stroke="#b0a8a8" stroke-width="8.0"/><line x1="2291.6" y1="987.5" x2="2313.0" y2="967.0" stroke="#dcd6d5" stroke-width="3.6"/><line x1="2237.1" y1="1041.1" x2="2215.7" y2="1061.6" stroke="#b0a8a8" stroke-width="8.0"/><line x1="2237.1" y1="1041.1" x2="2215.7" y2="1061.6" stroke="#dcd6d5" stroke-width="3.6"/><line x1="2291.6" y1="1041.1" x2="2313.0" y2="1061.6" stroke="#b0a8a8" stroke-width="8.0"/><line x1="2291.6" y1="1041.1" x2="2313.0" y2="1061.6" stroke="#dcd6d5" stroke-width="3.6"/><line x1="2263.9" y1="963.4" x2="2264.0" y2="915.0" stroke="#b0a8a8" stroke-width="8.0"/><line x1="2263.9" y1="963.4" x2="2264.0" y2="915.0" stroke="#dcd6d5" stroke-width="3.6"/><line x1="2207.1" y1="730.8" x2="2215.4" y2="682.4" stroke="#b0a8a8" stroke-width="8.0"/><line x1="2207.1" y1="730.8" x2="2215.4" y2="682.4" stroke="#dcd6d5" stroke-width="3.6"/><line x1="2215.4" y1="682.4" x2="2169.0" y2="659.8" stroke="#b0a8a8" stroke-width="8.0"/><line x1="2215.4" y1="682.4" x2="2169.0" y2="659.8" stroke="#dcd6d5" stroke-width="3.6"/><line x1="2169.0" y1="659.8" x2="2133.0" y2="696.8" stroke="#b0a8a8" stroke-width="8.0"/><line x1="2169.0" y1="659.8" x2="2133.0" y2="696.8" stroke="#dcd6d5" stroke-width="3.6"/><line x1="2133.0" y1="696.8" x2="2155.6" y2="742.2" stroke="#b0a8a8" stroke-width="8.0"/><line x1="2133.0" y1="696.8" x2="2155.6" y2="742.2" stroke="#dcd6d5" stroke-width="3.6"/><line x1="2155.6" y1="742.2" x2="2207.1" y2="730.8" stroke="#b0a8a8" stroke-width="8.0"/><line x1="2155.6" y1="742.2" x2="2207.1" y2="730.8" stroke="#dcd6d5" stroke-width="3.6"/><line x1="2315.3" y1="730.8" x2="2306.0" y2="681.4" stroke="#b0a8a8" stroke-width="8.0"/><line x1="2315.3" y1="730.8" x2="2306.0" y2="681.4" stroke="#dcd6d5" stroke-width="3.6"/><line x1="2306.0" y1="681.4" x2="2354.5" y2="656.7" stroke="#b0a8a8" stroke-width="8.0"/><line x1="2306.0" y1="681.4" x2="2354.5" y2="656.7" stroke="#dcd6d5" stroke-width="3.6"/><line x1="2354.5" y1="656.7" x2="2387.4" y2="691.7" stroke="#b0a8a8" stroke-width="8.0"/><line x1="2354.5" y1="656.7" x2="2387.4" y2="691.7" stroke="#dcd6d5" stroke-width="3.6"/><line x1="2387.4" y1="691.7" x2="2363.8" y2="739.1" stroke="#b0a8a8" stroke-width="8.0"/><line x1="2387.4" y1="691.7" x2="2363.8" y2="739.1" stroke="#dcd6d5" stroke-width="3.6"/><line x1="2363.8" y1="739.1" x2="2315.3" y2="730.8" stroke="#b0a8a8" stroke-width="8.0"/><line x1="2363.8" y1="739.1" x2="2315.3" y2="730.8" stroke="#dcd6d5" stroke-width="3.6"/><line x1="2208.2" y1="840.0" x2="2155.6" y2="832.8" stroke="#b0a8a8" stroke-width="8.0"/><line x1="2208.2" y1="840.0" x2="2155.6" y2="832.8" stroke="#dcd6d5" stroke-width="3.6"/><line x1="2155.6" y1="832.8" x2="2131.9" y2="881.3" stroke="#b0a8a8" stroke-width="8.0"/><line x1="2155.6" y1="832.8" x2="2131.9" y2="881.3" stroke="#dcd6d5" stroke-width="3.6"/><line x1="2131.9" y1="881.3" x2="2171.3" y2="917.0" stroke="#b0a8a8" stroke-width="8.0"/><line x1="2131.9" y1="881.3" x2="2171.3" y2="917.0" stroke="#dcd6d5" stroke-width="3.6"/><line x1="2171.3" y1="917.0" x2="2216.4" y2="887.5" stroke="#b0a8a8" stroke-width="8.0"/><line x1="2171.3" y1="917.0" x2="2216.4" y2="887.5" stroke="#dcd6d5" stroke-width="3.6"/><line x1="2216.4" y1="887.5" x2="2208.2" y2="840.0" stroke="#b0a8a8" stroke-width="8.0"/><line x1="2216.4" y1="887.5" x2="2208.2" y2="840.0" stroke="#dcd6d5" stroke-width="3.6"/><line x1="2316.4" y1="839.0" x2="2364.8" y2="828.7" stroke="#b0a8a8" stroke-width="8.0"/><line x1="2316.4" y1="839.0" x2="2364.8" y2="828.7" stroke="#dcd6d5" stroke-width="3.6"/><line x1="2364.8" y1="828.7" x2="2390.5" y2="876.1" stroke="#b0a8a8" stroke-width="8.0"/><line x1="2364.8" y1="828.7" x2="2390.5" y2="876.1" stroke="#dcd6d5" stroke-width="3.6"/><line x1="2390.5" y1="876.1" x2="2354.5" y2="917.0" stroke="#b0a8a8" stroke-width="8.0"/><line x1="2390.5" y1="876.1" x2="2354.5" y2="917.0" stroke="#dcd6d5" stroke-width="3.6"/><line x1="2354.5" y1="917.0" x2="2308.1" y2="887.5" stroke="#b0a8a8" stroke-width="8.0"/><line x1="2354.5" y1="917.0" x2="2308.1" y2="887.5" stroke="#dcd6d5" stroke-width="3.6"/><line x1="2308.1" y1="887.5" x2="2316.4" y2="839.0" stroke="#b0a8a8" stroke-width="8.0"/><line x1="2308.1" y1="887.5" x2="2316.4" y2="839.0" stroke="#dcd6d5" stroke-width="3.6"/><line x1="2169.0" y1="659.8" x2="2162.8" y2="618.5" stroke="#b0a8a8" stroke-width="8.0"/><line x1="2169.0" y1="659.8" x2="2162.8" y2="618.5" stroke="#dcd6d5" stroke-width="3.6"/><line x1="2133.0" y1="696.8" x2="2091.6" y2="692.5" stroke="#b0a8a8" stroke-width="8.0"/><line x1="2133.0" y1="696.8" x2="2091.6" y2="692.5" stroke="#dcd6d5" stroke-width="3.6"/><line x1="2207.1" y1="730.8" x2="2232.9" y2="760.7" stroke="#b0a8a8" stroke-width="8.0"/><line x1="2207.1" y1="730.8" x2="2232.9" y2="760.7" stroke="#dcd6d5" stroke-width="3.6"/><line x1="2354.5" y1="656.7" x2="2360.7" y2="616.5" stroke="#b0a8a8" stroke-width="8.0"/><line x1="2354.5" y1="656.7" x2="2360.7" y2="616.5" stroke="#dcd6d5" stroke-width="3.6"/><line x1="2387.4" y1="691.7" x2="2428.4" y2="686.6" stroke="#b0a8a8" stroke-width="8.0"/><line x1="2387.4" y1="691.7" x2="2428.4" y2="686.6" stroke="#dcd6d5" stroke-width="3.6"/><line x1="2131.9" y1="881.3" x2="2091.6" y2="887.5" stroke="#b0a8a8" stroke-width="8.0"/><line x1="2131.9" y1="881.3" x2="2091.6" y2="887.5" stroke="#dcd6d5" stroke-width="3.6"/><line x1="2171.3" y1="917.0" x2="2162.5" y2="955.4" stroke="#b0a8a8" stroke-width="8.0"/><line x1="2171.3" y1="917.0" x2="2162.5" y2="955.4" stroke="#dcd6d5" stroke-width="3.6"/><line x1="2390.5" y1="876.1" x2="2428.4" y2="887.5" stroke="#b0a8a8" stroke-width="8.0"/><line x1="2390.5" y1="876.1" x2="2428.4" y2="887.5" stroke="#dcd6d5" stroke-width="3.6"/><line x1="2354.5" y1="917.0" x2="2360.4" y2="955.4" stroke="#b0a8a8" stroke-width="8.0"/><line x1="2354.5" y1="917.0" x2="2360.4" y2="955.4" stroke="#dcd6d5" stroke-width="3.6"/><line x1="2316.4" y1="839.0" x2="2287.5" y2="813.3" stroke="#b0a8a8" stroke-width="8.0"/><line x1="2316.4" y1="839.0" x2="2287.5" y2="813.3" stroke="#dcd6d5" stroke-width="3.6"/><line x1="2262.5" y1="657.0" x2="2215.4" y2="682.4" stroke="#b0a8a8" stroke-width="8.0"/><line x1="2262.5" y1="657.0" x2="2215.4" y2="682.4" stroke="#dcd6d5" stroke-width="3.6"/><line x1="2262.5" y1="657.0" x2="2306.0" y2="681.4" stroke="#b0a8a8" stroke-width="8.0"/><line x1="2262.5" y1="657.0" x2="2306.0" y2="681.4" stroke="#dcd6d5" stroke-width="3.6"/><line x1="2132.5" y1="791.0" x2="2155.6" y2="742.2" stroke="#b0a8a8" stroke-width="8.0"/><line x1="2132.5" y1="791.0" x2="2155.6" y2="742.2" stroke="#dcd6d5" stroke-width="3.6"/><line x1="2132.5" y1="791.0" x2="2155.6" y2="832.8" stroke="#b0a8a8" stroke-width="8.0"/><line x1="2132.5" y1="791.0" x2="2155.6" y2="832.8" stroke="#dcd6d5" stroke-width="3.6"/><line x1="2388.5" y1="784.5" x2="2363.8" y2="739.1" stroke="#b0a8a8" stroke-width="8.0"/><line x1="2388.5" y1="784.5" x2="2363.8" y2="739.1" stroke="#dcd6d5" stroke-width="3.6"/><line x1="2388.5" y1="784.5" x2="2364.8" y2="828.7" stroke="#b0a8a8" stroke-width="8.0"/><line x1="2388.5" y1="784.5" x2="2364.8" y2="828.7" stroke="#dcd6d5" stroke-width="3.6"/><line x1="2264.0" y1="915.0" x2="2216.4" y2="887.5" stroke="#b0a8a8" stroke-width="8.0"/><line x1="2264.0" y1="915.0" x2="2216.4" y2="887.5" stroke="#dcd6d5" stroke-width="3.6"/><line x1="2264.0" y1="915.0" x2="2308.1" y2="887.5" stroke="#b0a8a8" stroke-width="8.0"/><line x1="2264.0" y1="915.0" x2="2308.1" y2="887.5" stroke="#dcd6d5" stroke-width="3.6"/><circle cx="2231.8" cy="432.3" r="12.0" fill="url(#gO)"/><circle cx="2286.3" cy="433.2" r="12.0" fill="url(#gO)"/><circle cx="2214.8" cy="456.4" r="9.0" fill="url(#gH)"/><circle cx="2261.3" cy="455.5" r="13.0" fill="url(#gC)"/><circle cx="2261.3" cy="506.4" r="13.0" fill="url(#gC)"/><circle cx="2206.8" cy="511.8" r="9.0" fill="url(#gH)"/><circle cx="2314.8" cy="512.7" r="9.0" fill="url(#gH)"/><circle cx="2230.9" cy="531.4" r="13.0" fill="url(#gC)"/><circle cx="2291.6" cy="531.4" r="13.0" fill="url(#gC)"/><circle cx="2230.9" cy="582.3" r="13.0" fill="url(#gC)"/><circle cx="2291.6" cy="582.3" r="13.0" fill="url(#gC)"/><circle cx="2207.7" cy="604.6" r="9.0" fill="url(#gH)"/><circle cx="2315.7" cy="604.6" r="9.0" fill="url(#gH)"/><circle cx="2262.1" cy="608.2" r="13.0" fill="url(#gC)"/><circle cx="1906.3" cy="767.3" r="12.0" fill="url(#gO)"/><circle cx="1929.4" cy="750.5" r="9.0" fill="url(#gH)"/><circle cx="1931.5" cy="795.6" r="13.0" fill="url(#gC)"/><circle cx="1911.5" cy="819.8" r="12.0" fill="url(#gO)"/><circle cx="1980.8" cy="795.6" r="13.0" fill="url(#gC)"/><circle cx="2005.0" cy="763.6" r="13.0" fill="url(#gC)"/><circle cx="2056.4" cy="763.6" r="13.0" fill="url(#gC)"/><circle cx="2007.1" cy="822.4" r="13.0" fill="url(#gC)"/><circle cx="2058.5" cy="822.4" r="13.0" fill="url(#gC)"/><circle cx="2082.7" cy="792.5" r="13.0" fill="url(#gC)"/><circle cx="1986.1" cy="742.1" r="9.0" fill="url(#gH)"/><circle cx="2076.4" cy="742.1" r="9.0" fill="url(#gH)"/><circle cx="1989.2" cy="845.0" r="9.0" fill="url(#gH)"/><circle cx="2078.5" cy="843.9" r="9.0" fill="url(#gH)"/><circle cx="2437.8" cy="784.6" r="13.0" fill="url(#gC)"/><circle cx="2463.0" cy="758.3" r="13.0" fill="url(#gC)"/><circle cx="2515.5" cy="758.3" r="13.0" fill="url(#gC)"/><circle cx="2463.0" cy="810.8" r="13.0" fill="url(#gC)"/><circle cx="2514.4" cy="810.8" r="13.0" fill="url(#gC)"/><circle cx="2540.7" cy="784.6" r="13.0" fill="url(#gC)"/><circle cx="2444.1" cy="738.4" r="9.0" fill="url(#gH)"/><circle cx="2535.4" cy="737.3" r="9.0" fill="url(#gH)"/><circle cx="2442.0" cy="833.9" r="9.0" fill="url(#gH)"/><circle cx="2535.4" cy="833.9" r="9.0" fill="url(#gH)"/><circle cx="2590.0" cy="783.5" r="13.0" fill="url(#gC)"/><circle cx="2614.2" cy="758.3" r="12.0" fill="url(#gO)"/><circle cx="2615.2" cy="807.7" r="12.0" fill="url(#gO)"/><circle cx="2589.0" cy="821.3" r="9.0" fill="url(#gH)"/><circle cx="2263.9" cy="963.4" r="13.0" fill="url(#gC)"/><circle cx="2214.8" cy="968.8" r="9.0" fill="url(#gH)"/><circle cx="2313.0" cy="967.0" r="9.0" fill="url(#gH)"/><circle cx="2237.1" cy="987.5" r="13.0" fill="url(#gC)"/><circle cx="2291.6" cy="987.5" r="13.0" fill="url(#gC)"/><circle cx="2237.1" cy="1041.1" r="13.0" fill="url(#gC)"/><circle cx="2291.6" cy="1041.1" r="13.0" fill="url(#gC)"/><circle cx="2215.7" cy="1061.6" r="9.0" fill="url(#gH)"/><circle cx="2313.0" cy="1061.6" r="9.0" fill="url(#gH)"/><circle cx="2265.7" cy="1066.1" r="13.0" fill="url(#gC)"/><circle cx="2265.7" cy="1116.1" r="13.0" fill="url(#gC)"/><circle cx="2242.5" cy="1138.4" r="12.0" fill="url(#gO)"/><circle cx="2291.6" cy="1139.3" r="12.0" fill="url(#gO)"/><circle cx="2308.6" cy="1117.0" r="9.0" fill="url(#gH)"/><circle cx="2262.5" cy="657.0" r="13.0" fill="url(#gC)"/><circle cx="2132.5" cy="791.0" r="13.0" fill="url(#gC)"/><circle cx="2388.5" cy="784.5" r="13.0" fill="url(#gC)"/><circle cx="2264.0" cy="915.0" r="13.0" fill="url(#gC)"/><circle cx="2215.4" cy="682.4" r="13.0" fill="url(#gC)"/><circle cx="2169.0" cy="659.8" r="13.0" fill="url(#gC)"/><circle cx="2133.0" cy="696.8" r="13.0" fill="url(#gC)"/><circle cx="2155.6" cy="742.2" r="13.0" fill="url(#gC)"/><circle cx="2207.1" cy="730.8" r="12.0" fill="url(#gN)"/><circle cx="2162.8" cy="618.5" r="9.0" fill="url(#gH)"/><circle cx="2091.6" cy="692.5" r="9.0" fill="url(#gH)"/><circle cx="2232.9" cy="760.7" r="9.0" fill="url(#gH)"/><circle cx="2306.0" cy="681.4" r="13.0" fill="url(#gC)"/><circle cx="2354.5" cy="656.7" r="13.0" fill="url(#gC)"/><circle cx="2387.4" cy="691.7" r="13.0" fill="url(#gC)"/><circle cx="2363.8" cy="739.1" r="13.0" fill="url(#gC)"/><circle cx="2315.3" cy="730.8" r="12.0" fill="url(#gN)"/><circle cx="2360.7" cy="616.5" r="9.0" fill="url(#gH)"/><circle cx="2428.4" cy="686.6" r="9.0" fill="url(#gH)"/><circle cx="2155.6" cy="832.8" r="13.0" fill="url(#gC)"/><circle cx="2131.9" cy="881.3" r="13.0" fill="url(#gC)"/><circle cx="2171.3" cy="917.0" r="13.0" fill="url(#gC)"/><circle cx="2216.4" cy="887.5" r="13.0" fill="url(#gC)"/><circle cx="2208.2" cy="840.0" r="12.0" fill="url(#gN)"/><circle cx="2091.6" cy="887.5" r="9.0" fill="url(#gH)"/><circle cx="2162.5" cy="955.4" r="9.0" fill="url(#gH)"/><circle cx="2364.8" cy="828.7" r="13.0" fill="url(#gC)"/><circle cx="2390.5" cy="876.1" r="13.0" fill="url(#gC)"/><circle cx="2354.5" cy="917.0" r="13.0" fill="url(#gC)"/><circle cx="2308.1" cy="887.5" r="13.0" fill="url(#gC)"/><circle cx="2316.4" cy="839.0" r="12.0" fill="url(#gN)"/><circle cx="2287.5" cy="813.3" r="9.0" fill="url(#gH)"/><circle cx="2428.4" cy="887.5" r="9.0" fill="url(#gH)"/><circle cx="2360.4" cy="955.4" r="9.0" fill="url(#gH)"/></g><g filter="url(#blur05)"><defs>
<linearGradient id="gShell" x1="0" y1="0" x2="0" y2="1">
 <stop offset="0" stop-color="#5e7f3a"/><stop offset="0.1" stop-color="#98bb80"/><stop offset="0.5" stop-color="#b3d09c"/><stop offset="0.85" stop-color="#9dbd84"/><stop offset="1" stop-color="#6f8e50"/>
</linearGradient>
<linearGradient id="gCore" x1="0" y1="1" x2="1" y2="0">
 <stop offset="0" stop-color="#58525f"/><stop offset="0.5" stop-color="#7c747b"/><stop offset="1" stop-color="#aaa2a5"/>
</linearGradient>
<linearGradient id="gInner" x1="0" y1="0" x2="0" y2="1">
 <stop offset="0" stop-color="#628a36"/><stop offset="0.7" stop-color="#56792f"/><stop offset="1" stop-color="#475f2a"/>
</linearGradient>
<linearGradient id="gHoleD" x1="0" y1="0" x2="1" y2="0">
 <stop offset="0" stop-color="#c8c0c0"/><stop offset="0.2" stop-color="#3a2e32"/><stop offset="0.55" stop-color="#8c7c88"/><stop offset="1" stop-color="#cfc3c8"/>
</linearGradient>
</defs><path d="M268,1393 C268,1460 430,1640 585,1752 L585,1763 L606,1763 L606,1752 C762,1640 944,1460 944,1393 Z" fill="#64823a"/><path d="M268,1396 C305,1310 490,1062 585,1006 Q594,999 603,1006 C700,1062 905,1310 943,1396 Z" fill="url(#gShell)"/><path d="M272,1393 L940,1393" stroke="#a9c496" stroke-width="3" opacity="0.7"/><path d="M593.0,1043.0 C582.0,1044.0 571.3,1053.2 560.0,1060.0 C548.7,1066.8 537.3,1071.0 525.0,1084.0 C512.7,1097.0 498.2,1120.3 486.0,1138.0 C473.8,1155.7 462.0,1172.5 452.0,1190.0 C442.0,1207.5 433.8,1226.3 426.0,1243.0 C418.2,1259.7 411.0,1273.8 405.0,1290.0 C399.0,1306.2 394.2,1322.5 390.0,1340.0 C385.8,1357.5 377.5,1382.3 380.0,1395.0 C382.5,1407.7 390.8,1410.3 405.0,1416.0 C419.2,1421.7 433.5,1425.3 465.0,1429.0 C496.5,1432.7 549.2,1438.0 594.0,1438.0 C638.8,1438.0 699.7,1432.8 734.0,1429.0 C768.3,1425.2 785.5,1421.2 800.0,1415.0 C814.5,1408.8 818.0,1403.3 821.0,1392.0 C824.0,1380.7 820.5,1361.3 818.0,1347.0 C815.5,1332.7 810.5,1319.7 806.0,1306.0 C801.5,1292.3 796.5,1278.7 791.0,1265.0 C785.5,1251.3 780.2,1237.8 773.0,1224.0 C765.8,1210.2 756.7,1195.8 748.0,1182.0 C739.3,1168.2 730.3,1154.2 721.0,1141.0 C711.7,1127.8 702.2,1114.3 692.0,1103.0 C681.8,1091.7 671.0,1081.2 660.0,1073.0 C649.0,1064.8 637.2,1059.0 626.0,1054.0 C614.8,1049.0 604.0,1042.0 593.0,1043.0Z" fill="url(#gInner)"/><path d="M592.0,1086.0 C580.8,1087.3 568.2,1100.7 557.0,1112.0 C545.8,1123.3 534.7,1140.0 525.0,1154.0 C515.3,1168.0 507.2,1181.2 499.0,1196.0 C490.8,1210.8 483.0,1227.3 476.0,1243.0 C469.0,1258.7 462.0,1274.8 457.0,1290.0 C452.0,1305.2 448.5,1321.0 446.0,1334.0 C443.5,1347.0 441.0,1359.7 442.0,1368.0 C443.0,1376.3 441.7,1379.2 452.0,1384.0 C462.3,1388.8 486.5,1394.0 504.0,1397.0 C521.5,1400.0 539.5,1401.0 557.0,1402.0 C574.5,1403.0 591.7,1403.5 609.0,1403.0 C626.3,1402.5 643.7,1401.3 661.0,1399.0 C678.3,1396.7 699.8,1393.3 713.0,1389.0 C726.2,1384.7 734.5,1380.0 740.0,1373.0 C745.5,1366.0 746.5,1358.2 746.0,1347.0 C745.5,1335.8 741.0,1319.7 737.0,1306.0 C733.0,1292.3 727.3,1278.7 722.0,1265.0 C716.7,1251.3 711.0,1237.8 705.0,1224.0 C699.0,1210.2 694.2,1196.3 686.0,1182.0 C677.8,1167.7 666.3,1151.0 656.0,1138.0 C645.7,1125.0 634.7,1112.7 624.0,1104.0 C613.3,1095.3 603.2,1084.7 592.0,1086.0Z" fill="url(#gCore)"/><line x1="593" y1="1092" x2="593" y2="1400" stroke="#a59aa2" stroke-width="2" opacity="0.6"/><path d="M450,1362 Q593,1345 742,1362" stroke="#8e8590" stroke-width="3" fill="none" opacity="0.5"/><circle cx="587.8" cy="1087.6" r="10.8" fill="url(#gY)"/><circle cx="525.9" cy="1149.4" r="10.8" fill="url(#gY)"/><circle cx="650.7" cy="1138.7" r="10.8" fill="url(#gY)"/><circle cx="695.4" cy="1211.3" r="10.8" fill="url(#gY)"/><circle cx="466.8" cy="1258.1" r="10.8" fill="url(#gY)"/><circle cx="726.0" cy="1283.9" r="10.8" fill="url(#gY)"/><circle cx="437.2" cy="1354.9" r="10.8" fill="url(#gY)"/><circle cx="743.8" cy="1361.9" r="10.8" fill="url(#gY)"/><circle cx="482.9" cy="1393.1" r="10.8" fill="url(#gY)"/><circle cx="691.0" cy="1395.8" r="10.8" fill="url(#gY)"/><circle cx="611.4" cy="1404.9" r="10.8" fill="url(#gY)"/><g transform="translate(566.0,1028.0) rotate(-38.0)" filter="url(#blur1)"><ellipse cx="0" cy="1.5" rx="18.0" ry="9.5" fill="#a6bf95"/><ellipse cx="3.6" cy="3.8" rx="13.0" ry="5.5" fill="#74ad55"/><ellipse cx="1.4" cy="-3.8" rx="15.0" ry="4.2" fill="url(#gHoleD)"/></g><g transform="translate(468.5,1128.8) rotate(-38.0)" filter="url(#blur1)"><ellipse cx="0" cy="1.5" rx="18.0" ry="9.5" fill="#a6bf95"/><ellipse cx="3.6" cy="3.8" rx="13.0" ry="5.5" fill="#74ad55"/><ellipse cx="1.4" cy="-3.8" rx="15.0" ry="4.2" fill="url(#gHoleD)"/></g><g transform="translate(406.5,1223.3) rotate(-38.0)" filter="url(#blur1)"><ellipse cx="0" cy="1.5" rx="18.0" ry="9.5" fill="#a6bf95"/><ellipse cx="3.6" cy="3.8" rx="13.0" ry="5.5" fill="#74ad55"/><ellipse cx="1.4" cy="-3.8" rx="15.0" ry="4.2" fill="url(#gHoleD)"/></g><g transform="translate(347.5,1323.7) rotate(-38.0)" filter="url(#blur1)"><ellipse cx="0" cy="1.5" rx="18.0" ry="9.5" fill="#a6bf95"/><ellipse cx="3.6" cy="3.8" rx="13.0" ry="5.5" fill="#74ad55"/><ellipse cx="1.4" cy="-3.8" rx="15.0" ry="4.2" fill="url(#gHoleD)"/></g><g transform="translate(731.8,1128.8) rotate(48.0)" filter="url(#blur1)"><ellipse cx="0" cy="1.5" rx="18.0" ry="9.5" fill="#a6bf95"/><ellipse cx="3.6" cy="3.8" rx="13.0" ry="5.5" fill="#74ad55"/><ellipse cx="1.4" cy="-3.8" rx="15.0" ry="4.2" fill="url(#gHoleD)"/></g><g transform="translate(795.3,1217.4) rotate(48.0)" filter="url(#blur1)"><ellipse cx="0" cy="1.5" rx="18.0" ry="9.5" fill="#a6bf95"/><ellipse cx="3.6" cy="3.8" rx="13.0" ry="5.5" fill="#74ad55"/><ellipse cx="1.4" cy="-3.8" rx="15.0" ry="4.2" fill="url(#gHoleD)"/></g><g transform="translate(866.1,1344.4) rotate(48.0)" filter="url(#blur1)"><ellipse cx="0" cy="1.5" rx="18.0" ry="9.5" fill="#a6bf95"/><ellipse cx="3.6" cy="3.8" rx="13.0" ry="5.5" fill="#74ad55"/><ellipse cx="1.4" cy="-3.8" rx="15.0" ry="4.2" fill="url(#gHoleD)"/></g><g transform="translate(371.0,1453.3) rotate(8.0)" filter="url(#blur1)"><ellipse cx="0" cy="2.0" rx="19.0" ry="12.5" fill="#a6bf95"/><ellipse cx="3.8" cy="5.0" rx="14.0" ry="8.5" fill="#74ad55"/><ellipse cx="1.5" cy="-5.0" rx="16.0" ry="5.6" fill="url(#gHoleD)"/></g><g transform="translate(841.6,1450.6) rotate(8.0)" filter="url(#blur1)"><ellipse cx="0" cy="2.0" rx="19.0" ry="12.5" fill="#a6bf95"/><ellipse cx="3.8" cy="5.0" rx="14.0" ry="8.5" fill="#74ad55"/><ellipse cx="1.5" cy="-5.0" rx="16.0" ry="5.6" fill="url(#gHoleD)"/></g><g transform="translate(494.7,1528.6) rotate(8.0)" filter="url(#blur1)"><ellipse cx="0" cy="2.0" rx="19.0" ry="12.5" fill="#a6bf95"/><ellipse cx="3.8" cy="5.0" rx="14.0" ry="8.5" fill="#74ad55"/><ellipse cx="1.5" cy="-5.0" rx="16.0" ry="5.6" fill="url(#gHoleD)"/></g><g transform="translate(736.8,1512.5) rotate(8.0)" filter="url(#blur1)"><ellipse cx="0" cy="2.0" rx="19.0" ry="12.5" fill="#a6bf95"/><ellipse cx="3.8" cy="5.0" rx="14.0" ry="8.5" fill="#74ad55"/><ellipse cx="1.5" cy="-5.0" rx="16.0" ry="5.6" fill="url(#gHoleD)"/></g><g transform="translate(610.4,1547.4) rotate(8.0)" filter="url(#blur1)"><ellipse cx="0" cy="2.0" rx="19.0" ry="12.5" fill="#a6bf95"/><ellipse cx="3.8" cy="5.0" rx="14.0" ry="8.5" fill="#74ad55"/><ellipse cx="1.5" cy="-5.0" rx="16.0" ry="5.6" fill="url(#gHoleD)"/></g><g transform="translate(521.6,1650.0) rotate(8.0)" filter="url(#blur1)"><ellipse cx="0" cy="2.0" rx="19.0" ry="12.5" fill="#a6bf95"/><ellipse cx="3.8" cy="5.0" rx="14.0" ry="8.5" fill="#74ad55"/><ellipse cx="1.5" cy="-5.0" rx="16.0" ry="5.6" fill="url(#gHoleD)"/></g><g transform="translate(675.0,1640.0) rotate(8.0)" filter="url(#blur1)"><ellipse cx="0" cy="2.0" rx="19.0" ry="12.5" fill="#a6bf95"/><ellipse cx="3.8" cy="5.0" rx="14.0" ry="8.5" fill="#74ad55"/><ellipse cx="1.5" cy="-5.0" rx="16.0" ry="5.6" fill="url(#gHoleD)"/></g><g transform="translate(606.0,1698.0) rotate(8.0)" filter="url(#blur1)"><ellipse cx="0" cy="2.0" rx="19.0" ry="12.5" fill="#a6bf95"/><ellipse cx="3.8" cy="5.0" rx="14.0" ry="8.5" fill="#74ad55"/><ellipse cx="1.5" cy="-5.0" rx="16.0" ry="5.6" fill="url(#gHoleD)"/></g></g><g filter="url(#blur1)"><polygon points="1108.5,616.0 1086.0,629.0 1063.5,616.0 1063.5,590.0 1086.0,577.0 1108.5,590.0" fill="none" stroke="#c9c0c0" stroke-width="3.4"/><polygon points="1141.9,620.0 1128.0,638.0 1114.1,620.0 1114.1,584.0 1128.0,566.0 1141.9,584.0" fill="none" stroke="#c9c0c0" stroke-width="3.4"/><polygon points="1253.6,608.0 1238.0,624.0 1222.4,608.0 1222.4,576.0 1238.0,560.0 1253.6,576.0" fill="none" stroke="#c9c0c0" stroke-width="3.4"/><polygon points="1291.1,621.0 1272.0,632.0 1252.9,621.0 1252.9,599.0 1272.0,588.0 1291.1,599.0" fill="none" stroke="#c9c0c0" stroke-width="3.4"/><polygon points="1110.5,789.0 1088.0,802.0 1065.5,789.0 1065.5,763.0 1088.0,750.0 1110.5,763.0" fill="none" stroke="#c9c0c0" stroke-width="3.4"/><polygon points="1143.0,785.0 1130.0,800.0 1117.0,785.0 1117.0,755.0 1130.0,740.0 1143.0,755.0" fill="none" stroke="#c9c0c0" stroke-width="3.4"/><polygon points="1246.7,792.0 1232.0,806.0 1217.3,792.0 1217.3,764.0 1232.0,750.0 1246.7,764.0" fill="none" stroke="#c9c0c0" stroke-width="3.4"/><polygon points="1292.1,789.0 1273.0,799.0 1253.9,789.0 1253.9,769.0 1273.0,759.0 1292.1,769.0" fill="none" stroke="#c9c0c0" stroke-width="3.4"/><line x1="1045" y1="640" x2="1066" y2="620" stroke="#c9c0c0" stroke-width="3.6"/><line x1="1140" y1="567" x2="1148" y2="548" stroke="#c9c0c0" stroke-width="3.6"/><line x1="1222" y1="560" x2="1230" y2="548" stroke="#c9c0c0" stroke-width="3.6"/><line x1="1290" y1="625" x2="1305" y2="640" stroke="#c9c0c0" stroke-width="3.6"/><line x1="1152" y1="677" x2="1224" y2="677" stroke="#c9c0c0" stroke-width="3.6"/><line x1="1163" y1="713" x2="1224" y2="713" stroke="#c9c0c0" stroke-width="3.6"/><line x1="1065" y1="795" x2="1060" y2="812" stroke="#c9c0c0" stroke-width="3.6"/><line x1="1125" y1="800" x2="1126" y2="830" stroke="#c9c0c0" stroke-width="3.6"/><line x1="1240" y1="805" x2="1240" y2="820" stroke="#c9c0c0" stroke-width="3.6"/><line x1="1292" y1="790" x2="1305" y2="770" stroke="#c9c0c0" stroke-width="3.6"/><line x1="1110" y1="603" x2="1112" y2="603" stroke="#c9c0c0" stroke-width="3.6"/><line x1="1254" y1="600" x2="1250" y2="600" stroke="#c9c0c0" stroke-width="3.6"/><polygon points="1144.8,447.5 1210.8,447.5 1235.8,450.5 1243.8,478.5 1261.8,516.5 1243.8,554.5 1235.8,582.5 1210.8,585.5 1144.8,585.5 1119.8,582.5 1111.8,554.5 1093.8,516.5 1111.8,478.5 1119.8,450.5" fill="#fff" stroke="#cdc4c4" stroke-width="3.2" stroke-linejoin="round"/><polygon points="959.5,619.0 1025.5,619.0 1050.5,622.0 1058.5,650.0 1076.5,688.0 1058.5,726.0 1050.5,754.0 1025.5,757.0 959.5,757.0 934.5,754.0 926.5,726.0 908.5,688.0 926.5,650.0 934.5,622.0" fill="#fff" stroke="#cdc4c4" stroke-width="3.2" stroke-linejoin="round"/><polygon points="1053.2,645.0 1119.2,645.0 1144.2,648.0 1152.2,676.0 1170.2,714.0 1152.2,752.0 1144.2,780.0 1119.2,783.0 1053.2,783.0 1028.2,780.0 1020.2,752.0 1002.2,714.0 1020.2,676.0 1028.2,648.0" fill="#fff" stroke="#cdc4c4" stroke-width="3.2" stroke-linejoin="round"/><polygon points="1238.4,608.0 1304.4,608.0 1329.4,611.0 1337.4,639.0 1355.4,677.0 1337.4,715.0 1329.4,743.0 1304.4,746.0 1238.4,746.0 1213.4,743.0 1205.4,715.0 1187.4,677.0 1205.4,639.0 1213.4,611.0" fill="#fff" stroke="#cdc4c4" stroke-width="3.2" stroke-linejoin="round"/><polygon points="1333.0,634.5 1399.0,634.5 1424.0,637.5 1432.0,665.5 1450.0,703.5 1432.0,741.5 1424.0,769.5 1399.0,772.5 1333.0,772.5 1308.0,769.5 1300.0,741.5 1282.0,703.5 1300.0,665.5 1308.0,637.5" fill="#fff" stroke="#cdc4c4" stroke-width="3.2" stroke-linejoin="round"/><polygon points="1149.8,804.5 1215.8,804.5 1240.8,807.5 1248.8,835.5 1266.8,873.5 1248.8,911.5 1240.8,939.5 1215.8,942.5 1149.8,942.5 1124.8,939.5 1116.8,911.5 1098.8,873.5 1116.8,835.5 1124.8,807.5" fill="#fff" stroke="#cdc4c4" stroke-width="3.2" stroke-linejoin="round"/><polygon points="1147.8,450.5 1207.8,450.5 1213.8,456.5 1213.8,486.5 1235.8,486.5 1259.8,516.5 1235.8,549.5 1213.8,549.5 1213.8,577.5 1207.8,582.5 1147.8,582.5 1141.8,577.5 1141.8,549.5 1119.8,549.5 1095.8,516.5 1119.8,486.5 1141.8,486.5 1141.8,456.5" fill="#57b546" stroke="#57b546" stroke-width="1.5"/><polygon points="1143.8,460.5 1173.8,460.5 1183.8,498.5 1155.8,520.5 1115.8,530.5 1101.8,516.5 1121.8,488.5 1143.8,488.5" fill="#45a23d"/><polygon points="1151.8,468.5 1171.8,468.5 1179.8,494.5 1161.8,510.5 1151.8,496.5" fill="#3d9236"/><polygon points="1117.8,538.5 1157.8,524.5 1187.8,510.5 1217.8,524.5 1239.8,542.5 1213.8,552.5 1177.8,554.5 1141.8,552.5" fill="#3e9437"/><polygon points="1177.8,522.5 1207.8,518.5 1227.8,536.5 1207.8,546.5 1185.8,544.5" fill="#378a31"/><polygon points="1147.8,556.5 1207.8,556.5 1211.8,578.5 1143.8,578.5" fill="#5fbd4d"/><polygon points="1183.8,454.5 1209.8,454.5 1211.8,486.5 1191.8,490.5" fill="#5ebb4c"/><line x1="1175.8" y1="532.5" x2="1201.8" y2="532.5" stroke="#a9c6a0" stroke-width="3"/><circle cx="1144.8" cy="447.5" r="4.3" fill="#d42424"/><circle cx="1210.8" cy="447.5" r="4.3" fill="#d42424"/><circle cx="1119.8" cy="450.5" r="4.3" fill="#d42424"/><circle cx="1235.8" cy="450.5" r="4.3" fill="#d42424"/><circle cx="1111.8" cy="478.5" r="4.3" fill="#d42424"/><circle cx="1243.8" cy="478.5" r="4.3" fill="#d42424"/><circle cx="1093.8" cy="516.5" r="4.3" fill="#d42424"/><circle cx="1261.8" cy="516.5" r="4.3" fill="#d42424"/><circle cx="1111.8" cy="554.5" r="4.3" fill="#d42424"/><circle cx="1243.8" cy="554.5" r="4.3" fill="#d42424"/><circle cx="1119.8" cy="582.5" r="4.3" fill="#d42424"/><circle cx="1235.8" cy="582.5" r="4.3" fill="#d42424"/><circle cx="1144.8" cy="585.5" r="4.3" fill="#d42424"/><circle cx="1210.8" cy="585.5" r="4.3" fill="#d42424"/><circle cx="1141.8" cy="486.5" r="4.3" fill="#d42424"/><circle cx="1213.8" cy="486.5" r="4.3" fill="#d42424"/><circle cx="1141.8" cy="549.5" r="4.3" fill="#d42424"/><circle cx="1213.8" cy="549.5" r="4.3" fill="#d42424"/><circle cx="1169.8" cy="532.5" r="4.3" fill="#d42424"/><circle cx="1207.8" cy="532.5" r="4.3" fill="#d42424"/><circle cx="1187.8" cy="504.5" r="4.3" fill="#d42424"/><circle cx="1187.8" cy="556.5" r="4.3" fill="#d42424"/><polygon points="962.5,622.0 1022.5,622.0 1028.5,628.0 1028.5,658.0 1050.5,658.0 1074.5,688.0 1050.5,721.0 1028.5,721.0 1028.5,749.0 1022.5,754.0 962.5,754.0 956.5,749.0 956.5,721.0 934.5,721.0 910.5,688.0 934.5,658.0 956.5,658.0 956.5,628.0" fill="#57b546" stroke="#57b546" stroke-width="1.5"/><polygon points="958.5,632.0 988.5,632.0 998.5,670.0 970.5,692.0 930.5,702.0 916.5,688.0 936.5,660.0 958.5,660.0" fill="#45a23d"/><polygon points="966.5,640.0 986.5,640.0 994.5,666.0 976.5,682.0 966.5,668.0" fill="#3d9236"/><polygon points="932.5,710.0 972.5,696.0 1002.5,682.0 1032.5,696.0 1054.5,714.0 1028.5,724.0 992.5,726.0 956.5,724.0" fill="#3e9437"/><polygon points="992.5,694.0 1022.5,690.0 1042.5,708.0 1022.5,718.0 1000.5,716.0" fill="#378a31"/><polygon points="962.5,728.0 1022.5,728.0 1026.5,750.0 958.5,750.0" fill="#5fbd4d"/><polygon points="998.5,626.0 1024.5,626.0 1026.5,658.0 1006.5,662.0" fill="#5ebb4c"/><line x1="990.5" y1="704.0" x2="1016.5" y2="704.0" stroke="#a9c6a0" stroke-width="3"/><circle cx="959.5" cy="619.0" r="4.3" fill="#d42424"/><circle cx="1025.5" cy="619.0" r="4.3" fill="#d42424"/><circle cx="934.5" cy="622.0" r="4.3" fill="#d42424"/><circle cx="1050.5" cy="622.0" r="4.3" fill="#d42424"/><circle cx="926.5" cy="650.0" r="4.3" fill="#d42424"/><circle cx="1058.5" cy="650.0" r="4.3" fill="#d42424"/><circle cx="908.5" cy="688.0" r="4.3" fill="#d42424"/><circle cx="1076.5" cy="688.0" r="4.3" fill="#d42424"/><circle cx="926.5" cy="726.0" r="4.3" fill="#d42424"/><circle cx="1058.5" cy="726.0" r="4.3" fill="#d42424"/><circle cx="934.5" cy="754.0" r="4.3" fill="#d42424"/><circle cx="1050.5" cy="754.0" r="4.3" fill="#d42424"/><circle cx="959.5" cy="757.0" r="4.3" fill="#d42424"/><circle cx="1025.5" cy="757.0" r="4.3" fill="#d42424"/><circle cx="956.5" cy="658.0" r="4.3" fill="#d42424"/><circle cx="1028.5" cy="658.0" r="4.3" fill="#d42424"/><circle cx="956.5" cy="721.0" r="4.3" fill="#d42424"/><circle cx="1028.5" cy="721.0" r="4.3" fill="#d42424"/><circle cx="984.5" cy="704.0" r="4.3" fill="#d42424"/><circle cx="1022.5" cy="704.0" r="4.3" fill="#d42424"/><circle cx="1002.5" cy="676.0" r="4.3" fill="#d42424"/><circle cx="1002.5" cy="728.0" r="4.3" fill="#d42424"/><polygon points="1056.2,648.0 1116.2,648.0 1122.2,654.0 1122.2,684.0 1144.2,684.0 1168.2,714.0 1144.2,747.0 1122.2,747.0 1122.2,775.0 1116.2,780.0 1056.2,780.0 1050.2,775.0 1050.2,747.0 1028.2,747.0 1004.2,714.0 1028.2,684.0 1050.2,684.0 1050.2,654.0" fill="#57b546" stroke="#57b546" stroke-width="1.5"/><polygon points="1052.2,658.0 1082.2,658.0 1092.2,696.0 1064.2,718.0 1024.2,728.0 1010.2,714.0 1030.2,686.0 1052.2,686.0" fill="#45a23d"/><polygon points="1060.2,666.0 1080.2,666.0 1088.2,692.0 1070.2,708.0 1060.2,694.0" fill="#3d9236"/><polygon points="1026.2,736.0 1066.2,722.0 1096.2,708.0 1126.2,722.0 1148.2,740.0 1122.2,750.0 1086.2,752.0 1050.2,750.0" fill="#3e9437"/><polygon points="1086.2,720.0 1116.2,716.0 1136.2,734.0 1116.2,744.0 1094.2,742.0" fill="#378a31"/><polygon points="1056.2,754.0 1116.2,754.0 1120.2,776.0 1052.2,776.0" fill="#5fbd4d"/><polygon points="1092.2,652.0 1118.2,652.0 1120.2,684.0 1100.2,688.0" fill="#5ebb4c"/><line x1="1084.2" y1="730.0" x2="1110.2" y2="730.0" stroke="#a9c6a0" stroke-width="3"/><circle cx="1053.2" cy="645.0" r="4.3" fill="#d42424"/><circle cx="1119.2" cy="645.0" r="4.3" fill="#d42424"/><circle cx="1028.2" cy="648.0" r="4.3" fill="#d42424"/><circle cx="1144.2" cy="648.0" r="4.3" fill="#d42424"/><circle cx="1020.2" cy="676.0" r="4.3" fill="#d42424"/><circle cx="1152.2" cy="676.0" r="4.3" fill="#d42424"/><circle cx="1002.2" cy="714.0" r="4.3" fill="#d42424"/><circle cx="1170.2" cy="714.0" r="4.3" fill="#d42424"/><circle cx="1020.2" cy="752.0" r="4.3" fill="#d42424"/><circle cx="1152.2" cy="752.0" r="4.3" fill="#d42424"/><circle cx="1028.2" cy="780.0" r="4.3" fill="#d42424"/><circle cx="1144.2" cy="780.0" r="4.3" fill="#d42424"/><circle cx="1053.2" cy="783.0" r="4.3" fill="#d42424"/><circle cx="1119.2" cy="783.0" r="4.3" fill="#d42424"/><circle cx="1050.2" cy="684.0" r="4.3" fill="#d42424"/><circle cx="1122.2" cy="684.0" r="4.3" fill="#d42424"/><circle cx="1050.2" cy="747.0" r="4.3" fill="#d42424"/><circle cx="1122.2" cy="747.0" r="4.3" fill="#d42424"/><circle cx="1078.2" cy="730.0" r="4.3" fill="#d42424"/><circle cx="1116.2" cy="730.0" r="4.3" fill="#d42424"/><circle cx="1096.2" cy="702.0" r="4.3" fill="#d42424"/><circle cx="1096.2" cy="754.0" r="4.3" fill="#d42424"/><polygon points="1241.4,611.0 1301.4,611.0 1307.4,617.0 1307.4,647.0 1329.4,647.0 1353.4,677.0 1329.4,710.0 1307.4,710.0 1307.4,738.0 1301.4,743.0 1241.4,743.0 1235.4,738.0 1235.4,710.0 1213.4,710.0 1189.4,677.0 1213.4,647.0 1235.4,647.0 1235.4,617.0" fill="#57b546" stroke="#57b546" stroke-width="1.5"/><polygon points="1237.4,621.0 1267.4,621.0 1277.4,659.0 1249.4,681.0 1209.4,691.0 1195.4,677.0 1215.4,649.0 1237.4,649.0" fill="#45a23d"/><polygon points="1245.4,629.0 1265.4,629.0 1273.4,655.0 1255.4,671.0 1245.4,657.0" fill="#3d9236"/><polygon points="1211.4,699.0 1251.4,685.0 1281.4,671.0 1311.4,685.0 1333.4,703.0 1307.4,713.0 1271.4,715.0 1235.4,713.0" fill="#3e9437"/><polygon points="1271.4,683.0 1301.4,679.0 1321.4,697.0 1301.4,707.0 1279.4,705.0" fill="#378a31"/><polygon points="1241.4,717.0 1301.4,717.0 1305.4,739.0 1237.4,739.0" fill="#5fbd4d"/><polygon points="1277.4,615.0 1303.4,615.0 1305.4,647.0 1285.4,651.0" fill="#5ebb4c"/><line x1="1269.4" y1="693.0" x2="1295.4" y2="693.0" stroke="#a9c6a0" stroke-width="3"/><circle cx="1238.4" cy="608.0" r="4.3" fill="#d42424"/><circle cx="1304.4" cy="608.0" r="4.3" fill="#d42424"/><circle cx="1213.4" cy="611.0" r="4.3" fill="#d42424"/><circle cx="1329.4" cy="611.0" r="4.3" fill="#d42424"/><circle cx="1205.4" cy="639.0" r="4.3" fill="#d42424"/><circle cx="1337.4" cy="639.0" r="4.3" fill="#d42424"/><circle cx="1187.4" cy="677.0" r="4.3" fill="#d42424"/><circle cx="1355.4" cy="677.0" r="4.3" fill="#d42424"/><circle cx="1205.4" cy="715.0" r="4.3" fill="#d42424"/><circle cx="1337.4" cy="715.0" r="4.3" fill="#d42424"/><circle cx="1213.4" cy="743.0" r="4.3" fill="#d42424"/><circle cx="1329.4" cy="743.0" r="4.3" fill="#d42424"/><circle cx="1238.4" cy="746.0" r="4.3" fill="#d42424"/><circle cx="1304.4" cy="746.0" r="4.3" fill="#d42424"/><circle cx="1235.4" cy="647.0" r="4.3" fill="#d42424"/><circle cx="1307.4" cy="647.0" r="4.3" fill="#d42424"/><circle cx="1235.4" cy="710.0" r="4.3" fill="#d42424"/><circle cx="1307.4" cy="710.0" r="4.3" fill="#d42424"/><circle cx="1263.4" cy="693.0" r="4.3" fill="#d42424"/><circle cx="1301.4" cy="693.0" r="4.3" fill="#d42424"/><circle cx="1281.4" cy="665.0" r="4.3" fill="#d42424"/><circle cx="1281.4" cy="717.0" r="4.3" fill="#d42424"/><polygon points="1336.0,637.5 1396.0,637.5 1402.0,643.5 1402.0,673.5 1424.0,673.5 1448.0,703.5 1424.0,736.5 1402.0,736.5 1402.0,764.5 1396.0,769.5 1336.0,769.5 1330.0,764.5 1330.0,736.5 1308.0,736.5 1284.0,703.5 1308.0,673.5 1330.0,673.5 1330.0,643.5" fill="#57b546" stroke="#57b546" stroke-width="1.5"/><polygon points="1332.0,647.5 1362.0,647.5 1372.0,685.5 1344.0,707.5 1304.0,717.5 1290.0,703.5 1310.0,675.5 1332.0,675.5" fill="#45a23d"/><polygon points="1340.0,655.5 1360.0,655.5 1368.0,681.5 1350.0,697.5 1340.0,683.5" fill="#3d9236"/><polygon points="1306.0,725.5 1346.0,711.5 1376.0,697.5 1406.0,711.5 1428.0,729.5 1402.0,739.5 1366.0,741.5 1330.0,739.5" fill="#3e9437"/><polygon points="1366.0,709.5 1396.0,705.5 1416.0,723.5 1396.0,733.5 1374.0,731.5" fill="#378a31"/><polygon points="1336.0,743.5 1396.0,743.5 1400.0,765.5 1332.0,765.5" fill="#5fbd4d"/><polygon points="1372.0,641.5 1398.0,641.5 1400.0,673.5 1380.0,677.5" fill="#5ebb4c"/><line x1="1364.0" y1="719.5" x2="1390.0" y2="719.5" stroke="#a9c6a0" stroke-width="3"/><circle cx="1333.0" cy="634.5" r="4.3" fill="#d42424"/><circle cx="1399.0" cy="634.5" r="4.3" fill="#d42424"/><circle cx="1308.0" cy="637.5" r="4.3" fill="#d42424"/><circle cx="1424.0" cy="637.5" r="4.3" fill="#d42424"/><circle cx="1300.0" cy="665.5" r="4.3" fill="#d42424"/><circle cx="1432.0" cy="665.5" r="4.3" fill="#d42424"/><circle cx="1282.0" cy="703.5" r="4.3" fill="#d42424"/><circle cx="1450.0" cy="703.5" r="4.3" fill="#d42424"/><circle cx="1300.0" cy="741.5" r="4.3" fill="#d42424"/><circle cx="1432.0" cy="741.5" r="4.3" fill="#d42424"/><circle cx="1308.0" cy="769.5" r="4.3" fill="#d42424"/><circle cx="1424.0" cy="769.5" r="4.3" fill="#d42424"/><circle cx="1333.0" cy="772.5" r="4.3" fill="#d42424"/><circle cx="1399.0" cy="772.5" r="4.3" fill="#d42424"/><circle cx="1330.0" cy="673.5" r="4.3" fill="#d42424"/><circle cx="1402.0" cy="673.5" r="4.3" fill="#d42424"/><circle cx="1330.0" cy="736.5" r="4.3" fill="#d42424"/><circle cx="1402.0" cy="736.5" r="4.3" fill="#d42424"/><circle cx="1358.0" cy="719.5" r="4.3" fill="#d42424"/><circle cx="1396.0" cy="719.5" r="4.3" fill="#d42424"/><circle cx="1376.0" cy="691.5" r="4.3" fill="#d42424"/><circle cx="1376.0" cy="743.5" r="4.3" fill="#d42424"/><polygon points="1152.8,807.5 1212.8,807.5 1218.8,813.5 1218.8,843.5 1240.8,843.5 1264.8,873.5 1240.8,906.5 1218.8,906.5 1218.8,934.5 1212.8,939.5 1152.8,939.5 1146.8,934.5 1146.8,906.5 1124.8,906.5 1100.8,873.5 1124.8,843.5 1146.8,843.5 1146.8,813.5" fill="#57b546" stroke="#57b546" stroke-width="1.5"/><polygon points="1148.8,817.5 1178.8,817.5 1188.8,855.5 1160.8,877.5 1120.8,887.5 1106.8,873.5 1126.8,845.5 1148.8,845.5" fill="#45a23d"/><polygon points="1156.8,825.5 1176.8,825.5 1184.8,851.5 1166.8,867.5 1156.8,853.5" fill="#3d9236"/><polygon points="1122.8,895.5 1162.8,881.5 1192.8,867.5 1222.8,881.5 1244.8,899.5 1218.8,909.5 1182.8,911.5 1146.8,909.5" fill="#3e9437"/><polygon points="1182.8,879.5 1212.8,875.5 1232.8,893.5 1212.8,903.5 1190.8,901.5" fill="#378a31"/><polygon points="1152.8,913.5 1212.8,913.5 1216.8,935.5 1148.8,935.5" fill="#5fbd4d"/><polygon points="1188.8,811.5 1214.8,811.5 1216.8,843.5 1196.8,847.5" fill="#5ebb4c"/><line x1="1180.8" y1="889.5" x2="1206.8" y2="889.5" stroke="#a9c6a0" stroke-width="3"/><circle cx="1149.8" cy="804.5" r="4.3" fill="#d42424"/><circle cx="1215.8" cy="804.5" r="4.3" fill="#d42424"/><circle cx="1124.8" cy="807.5" r="4.3" fill="#d42424"/><circle cx="1240.8" cy="807.5" r="4.3" fill="#d42424"/><circle cx="1116.8" cy="835.5" r="4.3" fill="#d42424"/><circle cx="1248.8" cy="835.5" r="4.3" fill="#d42424"/><circle cx="1098.8" cy="873.5" r="4.3" fill="#d42424"/><circle cx="1266.8" cy="873.5" r="4.3" fill="#d42424"/><circle cx="1116.8" cy="911.5" r="4.3" fill="#d42424"/><circle cx="1248.8" cy="911.5" r="4.3" fill="#d42424"/><circle cx="1124.8" cy="939.5" r="4.3" fill="#d42424"/><circle cx="1240.8" cy="939.5" r="4.3" fill="#d42424"/><circle cx="1149.8" cy="942.5" r="4.3" fill="#d42424"/><circle cx="1215.8" cy="942.5" r="4.3" fill="#d42424"/><circle cx="1146.8" cy="843.5" r="4.3" fill="#d42424"/><circle cx="1218.8" cy="843.5" r="4.3" fill="#d42424"/><circle cx="1146.8" cy="906.5" r="4.3" fill="#d42424"/><circle cx="1218.8" cy="906.5" r="4.3" fill="#d42424"/><circle cx="1174.8" cy="889.5" r="4.3" fill="#d42424"/><circle cx="1212.8" cy="889.5" r="4.3" fill="#d42424"/><circle cx="1192.8" cy="861.5" r="4.3" fill="#d42424"/><circle cx="1192.8" cy="913.5" r="4.3" fill="#d42424"/><ellipse cx="1072.8" cy="556.0" rx="5" ry="4" fill="#3a3a9a"/><ellipse cx="1120.0" cy="569.2" rx="5" ry="4" fill="#3a3a9a"/><ellipse cx="1233.3" cy="552.2" rx="5" ry="4" fill="#3a3a9a"/><ellipse cx="1280.5" cy="563.5" rx="5" ry="4" fill="#3a3a9a"/><ellipse cx="987.8" cy="699.5" rx="5" ry="4" fill="#3a3a9a"/><ellipse cx="1150.2" cy="674.9" rx="5" ry="4" fill="#3a3a9a"/><ellipse cx="1208.8" cy="714.6" rx="5" ry="4" fill="#3a3a9a"/><ellipse cx="1076.6" cy="822.2" rx="5" ry="4" fill="#3a3a9a"/><ellipse cx="1123.8" cy="839.2" rx="5" ry="4" fill="#3a3a9a"/><ellipse cx="1235.2" cy="812.7" rx="5" ry="4" fill="#3a3a9a"/><ellipse cx="1284.3" cy="833.5" rx="5" ry="4" fill="#3a3a9a"/></g><g filter="url(#blur1)"><defs>
<pattern id="pStripe" patternUnits="userSpaceOnUse" width="19" height="28" patternTransform="rotate(-18)">
 <rect width="19" height="28" fill="#e2e186"/>
 <ellipse cx="9.5" cy="14" rx="5.8" ry="12" fill="#fdfdf2"/>
 <circle cx="1.5" cy="6" r="2" fill="#958ec0"/><circle cx="17.5" cy="22" r="1.8" fill="#a8a058"/><circle cx="2" cy="20" r="1.5" fill="#c0b858"/>
 <circle cx="16" cy="4" r="1.4" fill="#e8a060"/>
</pattern>
<pattern id="pStripe2" patternUnits="userSpaceOnUse" width="16" height="11" patternTransform="rotate(-19)">
 <rect width="16" height="11" fill="#e2e07e"/><rect x="0" y="0" width="16" height="4.5" fill="#fafae0"/>
 <circle cx="4" cy="7" r="1.6" fill="#9890b0"/><circle cx="12" cy="8" r="1.5" fill="#d08a40"/>
</pattern>
<pattern id="pStripe3" patternUnits="userSpaceOnUse" width="17" height="17" patternTransform="rotate(35)">
 <rect width="17" height="17" fill="#e4e284"/><rect x="0" y="0" width="7" height="17" fill="#fbfbea"/>
 <circle cx="10" cy="5" r="1.6" fill="#8f88b8"/><circle cx="14" cy="12" r="1.5" fill="#b0a050"/>
</pattern>
<radialGradient id="gHole" cx="0.5" cy="0.5" r="0.5">
 <stop offset="0" stop-color="#ffffff"/><stop offset="0.5" stop-color="#ffffff"/><stop offset="0.8" stop-color="#ffffff" stop-opacity="0.6"/><stop offset="1" stop-color="#ffffff" stop-opacity="0"/>
</radialGradient>
</defs><polygon points="140.0,642.0 355.0,572.0 535.0,582.0 300.0,656.0" fill="url(#pStripe2)"/><polygon points="124.0,642.0 262.0,606.0 266.0,696.0 42.0,760.0" fill="url(#pStripe3)"/><polygon points="330.0,660.0 538.0,590.0 580.0,712.0 362.0,800.0" fill="url(#pStripe)"/><polygon points="60.0,765.0 262.0,700.0 320.0,822.0 95.0,905.0" fill="url(#pStripe)"/><polygon points="100.0,910.0 322.0,822.0 485.0,852.0 255.0,945.0" fill="url(#pStripe2)"/><polygon points="362.0,800.0 580.0,712.0 485.0,852.0 300.0,905.0" fill="url(#pStripe)" opacity="0.35"/><ellipse cx="305" cy="738" rx="75" ry="112" transform="rotate(-12 305 738)" fill="url(#gHole)"/><g transform="translate(133.8,632.5) rotate(-16.8)" opacity="1.00"><rect x="-12.8" y="-18.0" width="25.5" height="36.0" fill="#48aaa2"/><rect x="-7.6" y="-21.6" width="15.2" height="15.2" fill="#5dbfb7" transform="rotate(45 0 -14.0)"/><rect x="4.7" y="5.4" width="15.2" height="15.2" fill="#4fb4ac" transform="rotate(45 12.3 13.0)"/><rect x="-2.9" y="-2.5" width="6.9" height="11.0" fill="#2f8883"/><rect x="-1.2" y="-17.0" width="5.4" height="6.0" fill="#6ecac2"/><circle cx="4.9" cy="21.0" r="2" fill="#d06a40"/></g><g transform="translate(157.2,625.4) rotate(-16.8)" opacity="1.00"><rect x="-12.8" y="-18.0" width="25.5" height="36.0" fill="#48aaa2"/><rect x="-7.6" y="-21.6" width="15.2" height="15.2" fill="#5dbfb7" transform="rotate(45 0 -14.0)"/><rect x="4.7" y="5.4" width="15.2" height="15.2" fill="#4fb4ac" transform="rotate(45 12.3 13.0)"/><rect x="-2.9" y="-2.5" width="6.9" height="11.0" fill="#2f8883"/><rect x="-1.2" y="-17.0" width="5.4" height="6.0" fill="#6ecac2"/><circle cx="4.9" cy="21.0" r="2" fill="#d06a40"/></g><g transform="translate(180.8,618.2) rotate(-16.8)" opacity="1.00"><rect x="-12.8" y="-18.0" width="25.5" height="36.0" fill="#48aaa2"/><rect x="-7.6" y="-21.6" width="15.2" height="15.2" fill="#5dbfb7" transform="rotate(45 0 -14.0)"/><rect x="4.7" y="5.4" width="15.2" height="15.2" fill="#4fb4ac" transform="rotate(45 12.3 13.0)"/><rect x="-2.9" y="-2.5" width="6.9" height="11.0" fill="#2f8883"/><rect x="-1.2" y="-17.0" width="5.4" height="6.0" fill="#6ecac2"/><circle cx="4.9" cy="21.0" r="2" fill="#d06a40"/></g><g transform="translate(204.2,611.1) rotate(-16.8)" opacity="1.00"><rect x="-12.8" y="-18.0" width="25.5" height="36.0" fill="#48aaa2"/><rect x="-7.6" y="-21.6" width="15.2" height="15.2" fill="#5dbfb7" transform="rotate(45 0 -14.0)"/><rect x="4.7" y="5.4" width="15.2" height="15.2" fill="#4fb4ac" transform="rotate(45 12.3 13.0)"/><rect x="-2.9" y="-2.5" width="6.9" height="11.0" fill="#2f8883"/><rect x="-1.2" y="-17.0" width="5.4" height="6.0" fill="#6ecac2"/><circle cx="4.9" cy="21.0" r="2" fill="#d06a40"/></g><g transform="translate(227.8,604.0) rotate(-16.8)" opacity="1.00"><rect x="-12.8" y="-18.0" width="25.5" height="36.0" fill="#48aaa2"/><rect x="-7.6" y="-21.6" width="15.2" height="15.2" fill="#5dbfb7" transform="rotate(45 0 -14.0)"/><rect x="4.7" y="5.4" width="15.2" height="15.2" fill="#4fb4ac" transform="rotate(45 12.3 13.0)"/><rect x="-2.9" y="-2.5" width="6.9" height="11.0" fill="#2f8883"/><rect x="-1.2" y="-17.0" width="5.4" height="6.0" fill="#6ecac2"/><circle cx="4.9" cy="21.0" r="2" fill="#d06a40"/></g><g transform="translate(251.2,597.0) rotate(-16.8)" opacity="1.00"><rect x="-12.8" y="-18.0" width="25.5" height="36.0" fill="#48aaa2"/><rect x="-7.6" y="-21.6" width="15.2" height="15.2" fill="#5dbfb7" transform="rotate(45 0 -14.0)"/><rect x="4.7" y="5.4" width="15.2" height="15.2" fill="#4fb4ac" transform="rotate(45 12.3 13.0)"/><rect x="-2.9" y="-2.5" width="6.9" height="11.0" fill="#2f8883"/><rect x="-1.2" y="-17.0" width="5.4" height="6.0" fill="#6ecac2"/><circle cx="4.9" cy="21.0" r="2" fill="#d06a40"/></g><g transform="translate(274.8,589.9) rotate(-16.8)" opacity="1.00"><rect x="-12.8" y="-18.0" width="25.5" height="36.0" fill="#48aaa2"/><rect x="-7.6" y="-21.6" width="15.2" height="15.2" fill="#5dbfb7" transform="rotate(45 0 -14.0)"/><rect x="4.7" y="5.4" width="15.2" height="15.2" fill="#4fb4ac" transform="rotate(45 12.3 13.0)"/><rect x="-2.9" y="-2.5" width="6.9" height="11.0" fill="#2f8883"/><rect x="-1.2" y="-17.0" width="5.4" height="6.0" fill="#6ecac2"/><circle cx="4.9" cy="21.0" r="2" fill="#d06a40"/></g><g transform="translate(298.2,582.8) rotate(-16.8)" opacity="1.00"><rect x="-12.8" y="-18.0" width="25.5" height="36.0" fill="#48aaa2"/><rect x="-7.6" y="-21.6" width="15.2" height="15.2" fill="#5dbfb7" transform="rotate(45 0 -14.0)"/><rect x="4.7" y="5.4" width="15.2" height="15.2" fill="#4fb4ac" transform="rotate(45 12.3 13.0)"/><rect x="-2.9" y="-2.5" width="6.9" height="11.0" fill="#2f8883"/><rect x="-1.2" y="-17.0" width="5.4" height="6.0" fill="#6ecac2"/><circle cx="4.9" cy="21.0" r="2" fill="#d06a40"/></g><g transform="translate(321.8,575.6) rotate(-16.8)" opacity="1.00"><rect x="-12.8" y="-18.0" width="25.5" height="36.0" fill="#48aaa2"/><rect x="-7.6" y="-21.6" width="15.2" height="15.2" fill="#5dbfb7" transform="rotate(45 0 -14.0)"/><rect x="4.7" y="5.4" width="15.2" height="15.2" fill="#4fb4ac" transform="rotate(45 12.3 13.0)"/><rect x="-2.9" y="-2.5" width="6.9" height="11.0" fill="#2f8883"/><rect x="-1.2" y="-17.0" width="5.4" height="6.0" fill="#6ecac2"/><circle cx="4.9" cy="21.0" r="2" fill="#d06a40"/></g><g transform="translate(345.2,568.5) rotate(-16.8)" opacity="1.00"><rect x="-12.8" y="-18.0" width="25.5" height="36.0" fill="#48aaa2"/><rect x="-7.6" y="-21.6" width="15.2" height="15.2" fill="#5dbfb7" transform="rotate(45 0 -14.0)"/><rect x="4.7" y="5.4" width="15.2" height="15.2" fill="#4fb4ac" transform="rotate(45 12.3 13.0)"/><rect x="-2.9" y="-2.5" width="6.9" height="11.0" fill="#2f8883"/><rect x="-1.2" y="-17.0" width="5.4" height="6.0" fill="#6ecac2"/><circle cx="4.9" cy="21.0" r="2" fill="#d06a40"/></g><g transform="translate(308.2,650.9) rotate(-18.5)" opacity="1.00"><rect x="-13.4" y="-18.0" width="26.8" height="36.0" fill="#48aaa2"/><rect x="-8.0" y="-22.0" width="16.0" height="16.0" fill="#5dbfb7" transform="rotate(45 0 -14.0)"/><rect x="4.9" y="5.0" width="16.0" height="16.0" fill="#4fb4ac" transform="rotate(45 12.9 13.0)"/><rect x="-3.1" y="-2.5" width="7.2" height="11.0" fill="#2f8883"/><rect x="-1.3" y="-17.0" width="5.7" height="6.0" fill="#6ecac2"/><circle cx="5.2" cy="21.0" r="2" fill="#d06a40"/></g><g transform="translate(332.8,642.7) rotate(-18.5)" opacity="1.00"><rect x="-13.4" y="-18.0" width="26.8" height="36.0" fill="#48aaa2"/><rect x="-8.0" y="-22.0" width="16.0" height="16.0" fill="#5dbfb7" transform="rotate(45 0 -14.0)"/><rect x="4.9" y="5.0" width="16.0" height="16.0" fill="#4fb4ac" transform="rotate(45 12.9 13.0)"/><rect x="-3.1" y="-2.5" width="7.2" height="11.0" fill="#2f8883"/><rect x="-1.3" y="-17.0" width="5.7" height="6.0" fill="#6ecac2"/><circle cx="5.2" cy="21.0" r="2" fill="#d06a40"/></g><g transform="translate(357.2,634.5) rotate(-18.5)" opacity="1.00"><rect x="-13.4" y="-18.0" width="26.8" height="36.0" fill="#48aaa2"/><rect x="-8.0" y="-22.0" width="16.0" height="16.0" fill="#5dbfb7" transform="rotate(45 0 -14.0)"/><rect x="4.9" y="5.0" width="16.0" height="16.0" fill="#4fb4ac" transform="rotate(45 12.9 13.0)"/><rect x="-3.1" y="-2.5" width="7.2" height="11.0" fill="#2f8883"/><rect x="-1.3" y="-17.0" width="5.7" height="6.0" fill="#6ecac2"/><circle cx="5.2" cy="21.0" r="2" fill="#d06a40"/></g><g transform="translate(381.8,626.3) rotate(-18.5)" opacity="1.00"><rect x="-13.4" y="-18.0" width="26.8" height="36.0" fill="#48aaa2"/><rect x="-8.0" y="-22.0" width="16.0" height="16.0" fill="#5dbfb7" transform="rotate(45 0 -14.0)"/><rect x="4.9" y="5.0" width="16.0" height="16.0" fill="#4fb4ac" transform="rotate(45 12.9 13.0)"/><rect x="-3.1" y="-2.5" width="7.2" height="11.0" fill="#2f8883"/><rect x="-1.3" y="-17.0" width="5.7" height="6.0" fill="#6ecac2"/><circle cx="5.2" cy="21.0" r="2" fill="#d06a40"/></g><g transform="translate(406.2,618.1) rotate(-18.5)" opacity="1.00"><rect x="-13.4" y="-18.0" width="26.8" height="36.0" fill="#48aaa2"/><rect x="-8.0" y="-22.0" width="16.0" height="16.0" fill="#5dbfb7" transform="rotate(45 0 -14.0)"/><rect x="4.9" y="5.0" width="16.0" height="16.0" fill="#4fb4ac" transform="rotate(45 12.9 13.0)"/><rect x="-3.1" y="-2.5" width="7.2" height="11.0" fill="#2f8883"/><rect x="-1.3" y="-17.0" width="5.7" height="6.0" fill="#6ecac2"/><circle cx="5.2" cy="21.0" r="2" fill="#d06a40"/></g><g transform="translate(430.8,609.9) rotate(-18.5)" opacity="1.00"><rect x="-13.4" y="-18.0" width="26.8" height="36.0" fill="#48aaa2"/><rect x="-8.0" y="-22.0" width="16.0" height="16.0" fill="#5dbfb7" transform="rotate(45 0 -14.0)"/><rect x="4.9" y="5.0" width="16.0" height="16.0" fill="#4fb4ac" transform="rotate(45 12.9 13.0)"/><rect x="-3.1" y="-2.5" width="7.2" height="11.0" fill="#2f8883"/><rect x="-1.3" y="-17.0" width="5.7" height="6.0" fill="#6ecac2"/><circle cx="5.2" cy="21.0" r="2" fill="#d06a40"/></g><g transform="translate(455.2,601.7) rotate(-18.5)" opacity="1.00"><rect x="-13.4" y="-18.0" width="26.8" height="36.0" fill="#48aaa2"/><rect x="-8.0" y="-22.0" width="16.0" height="16.0" fill="#5dbfb7" transform="rotate(45 0 -14.0)"/><rect x="4.9" y="5.0" width="16.0" height="16.0" fill="#4fb4ac" transform="rotate(45 12.9 13.0)"/><rect x="-3.1" y="-2.5" width="7.2" height="11.0" fill="#2f8883"/><rect x="-1.3" y="-17.0" width="5.7" height="6.0" fill="#6ecac2"/><circle cx="5.2" cy="21.0" r="2" fill="#d06a40"/></g><g transform="translate(479.8,593.5) rotate(-18.5)" opacity="1.00"><rect x="-13.4" y="-18.0" width="26.8" height="36.0" fill="#48aaa2"/><rect x="-8.0" y="-22.0" width="16.0" height="16.0" fill="#5dbfb7" transform="rotate(45 0 -14.0)"/><rect x="4.9" y="5.0" width="16.0" height="16.0" fill="#4fb4ac" transform="rotate(45 12.9 13.0)"/><rect x="-3.1" y="-2.5" width="7.2" height="11.0" fill="#2f8883"/><rect x="-1.3" y="-17.0" width="5.7" height="6.0" fill="#6ecac2"/><circle cx="5.2" cy="21.0" r="2" fill="#d06a40"/></g><g transform="translate(504.2,585.3) rotate(-18.5)" opacity="0.88"><rect x="-13.4" y="-18.0" width="26.8" height="36.0" fill="#48aaa2"/><rect x="-8.0" y="-22.0" width="16.0" height="16.0" fill="#5dbfb7" transform="rotate(45 0 -14.0)"/><rect x="4.9" y="5.0" width="16.0" height="16.0" fill="#4fb4ac" transform="rotate(45 12.9 13.0)"/><rect x="-3.1" y="-2.5" width="7.2" height="11.0" fill="#2f8883"/><rect x="-1.3" y="-17.0" width="5.7" height="6.0" fill="#6ecac2"/><circle cx="5.2" cy="21.0" r="2" fill="#d06a40"/></g><g transform="translate(528.8,577.1) rotate(-18.5)" opacity="0.49"><rect x="-13.4" y="-18.0" width="26.8" height="36.0" fill="#48aaa2"/><rect x="-8.0" y="-22.0" width="16.0" height="16.0" fill="#5dbfb7" transform="rotate(45 0 -14.0)"/><rect x="4.9" y="5.0" width="16.0" height="16.0" fill="#4fb4ac" transform="rotate(45 12.9 13.0)"/><rect x="-3.1" y="-2.5" width="7.2" height="11.0" fill="#2f8883"/><rect x="-1.3" y="-17.0" width="5.7" height="6.0" fill="#6ecac2"/><circle cx="5.2" cy="21.0" r="2" fill="#d06a40"/></g><g transform="translate(44.6,751.0) rotate(-14.4)" opacity="1.00"><rect x="-12.5" y="-18.0" width="25.1" height="36.0" fill="#48aaa2"/><rect x="-7.5" y="-21.5" width="14.9" height="14.9" fill="#5dbfb7" transform="rotate(45 0 -14.0)"/><rect x="4.6" y="5.5" width="14.9" height="14.9" fill="#4fb4ac" transform="rotate(45 12.0 13.0)"/><rect x="-2.9" y="-2.5" width="6.7" height="11.0" fill="#2f8883"/><rect x="-1.2" y="-17.0" width="5.3" height="6.0" fill="#6ecac2"/><circle cx="4.8" cy="21.0" r="2" fill="#d06a40"/></g><g transform="translate(67.9,745.0) rotate(-14.4)" opacity="1.00"><rect x="-12.5" y="-18.0" width="25.1" height="36.0" fill="#48aaa2"/><rect x="-7.5" y="-21.5" width="14.9" height="14.9" fill="#5dbfb7" transform="rotate(45 0 -14.0)"/><rect x="4.6" y="5.5" width="14.9" height="14.9" fill="#4fb4ac" transform="rotate(45 12.0 13.0)"/><rect x="-2.9" y="-2.5" width="6.7" height="11.0" fill="#2f8883"/><rect x="-1.2" y="-17.0" width="5.3" height="6.0" fill="#6ecac2"/><circle cx="4.8" cy="21.0" r="2" fill="#d06a40"/></g><g transform="translate(91.2,739.0) rotate(-14.4)" opacity="1.00"><rect x="-12.5" y="-18.0" width="25.1" height="36.0" fill="#48aaa2"/><rect x="-7.5" y="-21.5" width="14.9" height="14.9" fill="#5dbfb7" transform="rotate(45 0 -14.0)"/><rect x="4.6" y="5.5" width="14.9" height="14.9" fill="#4fb4ac" transform="rotate(45 12.0 13.0)"/><rect x="-2.9" y="-2.5" width="6.7" height="11.0" fill="#2f8883"/><rect x="-1.2" y="-17.0" width="5.3" height="6.0" fill="#6ecac2"/><circle cx="4.8" cy="21.0" r="2" fill="#d06a40"/></g><g transform="translate(114.5,733.0) rotate(-14.4)" opacity="1.00"><rect x="-12.5" y="-18.0" width="25.1" height="36.0" fill="#48aaa2"/><rect x="-7.5" y="-21.5" width="14.9" height="14.9" fill="#5dbfb7" transform="rotate(45 0 -14.0)"/><rect x="4.6" y="5.5" width="14.9" height="14.9" fill="#4fb4ac" transform="rotate(45 12.0 13.0)"/><rect x="-2.9" y="-2.5" width="6.7" height="11.0" fill="#2f8883"/><rect x="-1.2" y="-17.0" width="5.3" height="6.0" fill="#6ecac2"/><circle cx="4.8" cy="21.0" r="2" fill="#d06a40"/></g><g transform="translate(137.9,727.0) rotate(-14.4)" opacity="1.00"><rect x="-12.5" y="-18.0" width="25.1" height="36.0" fill="#48aaa2"/><rect x="-7.5" y="-21.5" width="14.9" height="14.9" fill="#5dbfb7" transform="rotate(45 0 -14.0)"/><rect x="4.6" y="5.5" width="14.9" height="14.9" fill="#4fb4ac" transform="rotate(45 12.0 13.0)"/><rect x="-2.9" y="-2.5" width="6.7" height="11.0" fill="#2f8883"/><rect x="-1.2" y="-17.0" width="5.3" height="6.0" fill="#6ecac2"/><circle cx="4.8" cy="21.0" r="2" fill="#d06a40"/></g><g transform="translate(161.2,721.0) rotate(-14.4)" opacity="1.00"><rect x="-12.5" y="-18.0" width="25.1" height="36.0" fill="#48aaa2"/><rect x="-7.5" y="-21.5" width="14.9" height="14.9" fill="#5dbfb7" transform="rotate(45 0 -14.0)"/><rect x="4.6" y="5.5" width="14.9" height="14.9" fill="#4fb4ac" transform="rotate(45 12.0 13.0)"/><rect x="-2.9" y="-2.5" width="6.7" height="11.0" fill="#2f8883"/><rect x="-1.2" y="-17.0" width="5.3" height="6.0" fill="#6ecac2"/><circle cx="4.8" cy="21.0" r="2" fill="#d06a40"/></g><g transform="translate(184.5,715.0) rotate(-14.4)" opacity="0.94"><rect x="-12.5" y="-18.0" width="25.1" height="36.0" fill="#48aaa2"/><rect x="-7.5" y="-21.5" width="14.9" height="14.9" fill="#5dbfb7" transform="rotate(45 0 -14.0)"/><rect x="4.6" y="5.5" width="14.9" height="14.9" fill="#4fb4ac" transform="rotate(45 12.0 13.0)"/><rect x="-2.9" y="-2.5" width="6.7" height="11.0" fill="#2f8883"/><rect x="-1.2" y="-17.0" width="5.3" height="6.0" fill="#6ecac2"/><circle cx="4.8" cy="21.0" r="2" fill="#d06a40"/></g><g transform="translate(207.8,709.0) rotate(-14.4)" opacity="0.74"><rect x="-12.5" y="-18.0" width="25.1" height="36.0" fill="#48aaa2"/><rect x="-7.5" y="-21.5" width="14.9" height="14.9" fill="#5dbfb7" transform="rotate(45 0 -14.0)"/><rect x="4.6" y="5.5" width="14.9" height="14.9" fill="#4fb4ac" transform="rotate(45 12.0 13.0)"/><rect x="-2.9" y="-2.5" width="6.7" height="11.0" fill="#2f8883"/><rect x="-1.2" y="-17.0" width="5.3" height="6.0" fill="#6ecac2"/><circle cx="4.8" cy="21.0" r="2" fill="#d06a40"/></g><g transform="translate(231.0,703.0) rotate(-14.4)" opacity="0.55"><rect x="-12.5" y="-18.0" width="25.1" height="36.0" fill="#48aaa2"/><rect x="-7.5" y="-21.5" width="14.9" height="14.9" fill="#5dbfb7" transform="rotate(45 0 -14.0)"/><rect x="4.6" y="5.5" width="14.9" height="14.9" fill="#4fb4ac" transform="rotate(45 12.0 13.0)"/><rect x="-2.9" y="-2.5" width="6.7" height="11.0" fill="#2f8883"/><rect x="-1.2" y="-17.0" width="5.3" height="6.0" fill="#6ecac2"/><circle cx="4.8" cy="21.0" r="2" fill="#d06a40"/></g><g transform="translate(254.3,697.0) rotate(-14.4)" opacity="0.35"><rect x="-12.5" y="-18.0" width="25.1" height="36.0" fill="#48aaa2"/><rect x="-7.5" y="-21.5" width="14.9" height="14.9" fill="#5dbfb7" transform="rotate(45 0 -14.0)"/><rect x="4.6" y="5.5" width="14.9" height="14.9" fill="#4fb4ac" transform="rotate(45 12.0 13.0)"/><rect x="-2.9" y="-2.5" width="6.7" height="11.0" fill="#2f8883"/><rect x="-1.2" y="-17.0" width="5.3" height="6.0" fill="#6ecac2"/><circle cx="4.8" cy="21.0" r="2" fill="#d06a40"/></g><g transform="translate(368.6,793.4) rotate(-21.6)" opacity="1.00"><rect x="-13.0" y="-18.0" width="26.0" height="36.0" fill="#48aaa2"/><rect x="-7.7" y="-21.7" width="15.5" height="15.5" fill="#5dbfb7" transform="rotate(45 0 -14.0)"/><rect x="4.7" y="5.3" width="15.5" height="15.5" fill="#4fb4ac" transform="rotate(45 12.5 13.0)"/><rect x="-3.0" y="-2.5" width="7.0" height="11.0" fill="#2f8883"/><rect x="-1.2" y="-17.0" width="5.5" height="6.0" fill="#6ecac2"/><circle cx="5.0" cy="21.0" r="2" fill="#d06a40"/></g><g transform="translate(391.8,784.2) rotate(-21.6)" opacity="1.00"><rect x="-13.0" y="-18.0" width="26.0" height="36.0" fill="#48aaa2"/><rect x="-7.7" y="-21.7" width="15.5" height="15.5" fill="#5dbfb7" transform="rotate(45 0 -14.0)"/><rect x="4.7" y="5.3" width="15.5" height="15.5" fill="#4fb4ac" transform="rotate(45 12.5 13.0)"/><rect x="-3.0" y="-2.5" width="7.0" height="11.0" fill="#2f8883"/><rect x="-1.2" y="-17.0" width="5.5" height="6.0" fill="#6ecac2"/><circle cx="5.0" cy="21.0" r="2" fill="#d06a40"/></g><g transform="translate(415.0,775.0) rotate(-21.6)" opacity="1.00"><rect x="-13.0" y="-18.0" width="26.0" height="36.0" fill="#48aaa2"/><rect x="-7.7" y="-21.7" width="15.5" height="15.5" fill="#5dbfb7" transform="rotate(45 0 -14.0)"/><rect x="4.7" y="5.3" width="15.5" height="15.5" fill="#4fb4ac" transform="rotate(45 12.5 13.0)"/><rect x="-3.0" y="-2.5" width="7.0" height="11.0" fill="#2f8883"/><rect x="-1.2" y="-17.0" width="5.5" height="6.0" fill="#6ecac2"/><circle cx="5.0" cy="21.0" r="2" fill="#d06a40"/></g><g transform="translate(438.2,765.8) rotate(-21.6)" opacity="1.00"><rect x="-13.0" y="-18.0" width="26.0" height="36.0" fill="#48aaa2"/><rect x="-7.7" y="-21.7" width="15.5" height="15.5" fill="#5dbfb7" transform="rotate(45 0 -14.0)"/><rect x="4.7" y="5.3" width="15.5" height="15.5" fill="#4fb4ac" transform="rotate(45 12.5 13.0)"/><rect x="-3.0" y="-2.5" width="7.0" height="11.0" fill="#2f8883"/><rect x="-1.2" y="-17.0" width="5.5" height="6.0" fill="#6ecac2"/><circle cx="5.0" cy="21.0" r="2" fill="#d06a40"/></g><g transform="translate(461.4,756.6) rotate(-21.6)" opacity="1.00"><rect x="-13.0" y="-18.0" width="26.0" height="36.0" fill="#48aaa2"/><rect x="-7.7" y="-21.7" width="15.5" height="15.5" fill="#5dbfb7" transform="rotate(45 0 -14.0)"/><rect x="4.7" y="5.3" width="15.5" height="15.5" fill="#4fb4ac" transform="rotate(45 12.5 13.0)"/><rect x="-3.0" y="-2.5" width="7.0" height="11.0" fill="#2f8883"/><rect x="-1.2" y="-17.0" width="5.5" height="6.0" fill="#6ecac2"/><circle cx="5.0" cy="21.0" r="2" fill="#d06a40"/></g><g transform="translate(484.6,747.4) rotate(-21.6)" opacity="1.00"><rect x="-13.0" y="-18.0" width="26.0" height="36.0" fill="#48aaa2"/><rect x="-7.7" y="-21.7" width="15.5" height="15.5" fill="#5dbfb7" transform="rotate(45 0 -14.0)"/><rect x="4.7" y="5.3" width="15.5" height="15.5" fill="#4fb4ac" transform="rotate(45 12.5 13.0)"/><rect x="-3.0" y="-2.5" width="7.0" height="11.0" fill="#2f8883"/><rect x="-1.2" y="-17.0" width="5.5" height="6.0" fill="#6ecac2"/><circle cx="5.0" cy="21.0" r="2" fill="#d06a40"/></g><g transform="translate(507.8,738.2) rotate(-21.6)" opacity="1.00"><rect x="-13.0" y="-18.0" width="26.0" height="36.0" fill="#48aaa2"/><rect x="-7.7" y="-21.7" width="15.5" height="15.5" fill="#5dbfb7" transform="rotate(45 0 -14.0)"/><rect x="4.7" y="5.3" width="15.5" height="15.5" fill="#4fb4ac" transform="rotate(45 12.5 13.0)"/><rect x="-3.0" y="-2.5" width="7.0" height="11.0" fill="#2f8883"/><rect x="-1.2" y="-17.0" width="5.5" height="6.0" fill="#6ecac2"/><circle cx="5.0" cy="21.0" r="2" fill="#d06a40"/></g><g transform="translate(531.0,729.0) rotate(-21.6)" opacity="1.00"><rect x="-13.0" y="-18.0" width="26.0" height="36.0" fill="#48aaa2"/><rect x="-7.7" y="-21.7" width="15.5" height="15.5" fill="#5dbfb7" transform="rotate(45 0 -14.0)"/><rect x="4.7" y="5.3" width="15.5" height="15.5" fill="#4fb4ac" transform="rotate(45 12.5 13.0)"/><rect x="-3.0" y="-2.5" width="7.0" height="11.0" fill="#2f8883"/><rect x="-1.2" y="-17.0" width="5.5" height="6.0" fill="#6ecac2"/><circle cx="5.0" cy="21.0" r="2" fill="#d06a40"/></g><g transform="translate(554.2,719.8) rotate(-21.6)" opacity="0.78"><rect x="-13.0" y="-18.0" width="26.0" height="36.0" fill="#48aaa2"/><rect x="-7.7" y="-21.7" width="15.5" height="15.5" fill="#5dbfb7" transform="rotate(45 0 -14.0)"/><rect x="4.7" y="5.3" width="15.5" height="15.5" fill="#4fb4ac" transform="rotate(45 12.5 13.0)"/><rect x="-3.0" y="-2.5" width="7.0" height="11.0" fill="#2f8883"/><rect x="-1.2" y="-17.0" width="5.5" height="6.0" fill="#6ecac2"/><circle cx="5.0" cy="21.0" r="2" fill="#d06a40"/></g><g transform="translate(577.4,710.6) rotate(-21.6)" opacity="0.46"><rect x="-13.0" y="-18.0" width="26.0" height="36.0" fill="#48aaa2"/><rect x="-7.7" y="-21.7" width="15.5" height="15.5" fill="#5dbfb7" transform="rotate(45 0 -14.0)"/><rect x="4.7" y="5.3" width="15.5" height="15.5" fill="#4fb4ac" transform="rotate(45 12.5 13.0)"/><rect x="-3.0" y="-2.5" width="7.0" height="11.0" fill="#2f8883"/><rect x="-1.2" y="-17.0" width="5.5" height="6.0" fill="#6ecac2"/><circle cx="5.0" cy="21.0" r="2" fill="#d06a40"/></g><g transform="translate(102.8,897.7) rotate(-20.1)" opacity="1.00"><rect x="-13.0" y="-18.0" width="26.0" height="36.0" fill="#48aaa2"/><rect x="-7.8" y="-21.8" width="15.5" height="15.5" fill="#5dbfb7" transform="rotate(45 0 -14.0)"/><rect x="4.8" y="5.2" width="15.5" height="15.5" fill="#4fb4ac" transform="rotate(45 12.5 13.0)"/><rect x="-3.0" y="-2.5" width="7.0" height="11.0" fill="#2f8883"/><rect x="-1.3" y="-17.0" width="5.5" height="6.0" fill="#6ecac2"/><circle cx="5.0" cy="21.0" r="2" fill="#d06a40"/></g><g transform="translate(126.2,889.1) rotate(-20.1)" opacity="1.00"><rect x="-13.0" y="-18.0" width="26.0" height="36.0" fill="#48aaa2"/><rect x="-7.8" y="-21.8" width="15.5" height="15.5" fill="#5dbfb7" transform="rotate(45 0 -14.0)"/><rect x="4.8" y="5.2" width="15.5" height="15.5" fill="#4fb4ac" transform="rotate(45 12.5 13.0)"/><rect x="-3.0" y="-2.5" width="7.0" height="11.0" fill="#2f8883"/><rect x="-1.3" y="-17.0" width="5.5" height="6.0" fill="#6ecac2"/><circle cx="5.0" cy="21.0" r="2" fill="#d06a40"/></g><g transform="translate(149.8,880.5) rotate(-20.1)" opacity="1.00"><rect x="-13.0" y="-18.0" width="26.0" height="36.0" fill="#48aaa2"/><rect x="-7.8" y="-21.8" width="15.5" height="15.5" fill="#5dbfb7" transform="rotate(45 0 -14.0)"/><rect x="4.8" y="5.2" width="15.5" height="15.5" fill="#4fb4ac" transform="rotate(45 12.5 13.0)"/><rect x="-3.0" y="-2.5" width="7.0" height="11.0" fill="#2f8883"/><rect x="-1.3" y="-17.0" width="5.5" height="6.0" fill="#6ecac2"/><circle cx="5.0" cy="21.0" r="2" fill="#d06a40"/></g><g transform="translate(173.2,871.9) rotate(-20.1)" opacity="1.00"><rect x="-13.0" y="-18.0" width="26.0" height="36.0" fill="#48aaa2"/><rect x="-7.8" y="-21.8" width="15.5" height="15.5" fill="#5dbfb7" transform="rotate(45 0 -14.0)"/><rect x="4.8" y="5.2" width="15.5" height="15.5" fill="#4fb4ac" transform="rotate(45 12.5 13.0)"/><rect x="-3.0" y="-2.5" width="7.0" height="11.0" fill="#2f8883"/><rect x="-1.3" y="-17.0" width="5.5" height="6.0" fill="#6ecac2"/><circle cx="5.0" cy="21.0" r="2" fill="#d06a40"/></g><g transform="translate(196.8,863.3) rotate(-20.1)" opacity="1.00"><rect x="-13.0" y="-18.0" width="26.0" height="36.0" fill="#48aaa2"/><rect x="-7.8" y="-21.8" width="15.5" height="15.5" fill="#5dbfb7" transform="rotate(45 0 -14.0)"/><rect x="4.8" y="5.2" width="15.5" height="15.5" fill="#4fb4ac" transform="rotate(45 12.5 13.0)"/><rect x="-3.0" y="-2.5" width="7.0" height="11.0" fill="#2f8883"/><rect x="-1.3" y="-17.0" width="5.5" height="6.0" fill="#6ecac2"/><circle cx="5.0" cy="21.0" r="2" fill="#d06a40"/></g><g transform="translate(220.2,854.7) rotate(-20.1)" opacity="1.00"><rect x="-13.0" y="-18.0" width="26.0" height="36.0" fill="#48aaa2"/><rect x="-7.8" y="-21.8" width="15.5" height="15.5" fill="#5dbfb7" transform="rotate(45 0 -14.0)"/><rect x="4.8" y="5.2" width="15.5" height="15.5" fill="#4fb4ac" transform="rotate(45 12.5 13.0)"/><rect x="-3.0" y="-2.5" width="7.0" height="11.0" fill="#2f8883"/><rect x="-1.3" y="-17.0" width="5.5" height="6.0" fill="#6ecac2"/><circle cx="5.0" cy="21.0" r="2" fill="#d06a40"/></g><g transform="translate(243.8,846.1) rotate(-20.1)" opacity="1.00"><rect x="-13.0" y="-18.0" width="26.0" height="36.0" fill="#48aaa2"/><rect x="-7.8" y="-21.8" width="15.5" height="15.5" fill="#5dbfb7" transform="rotate(45 0 -14.0)"/><rect x="4.8" y="5.2" width="15.5" height="15.5" fill="#4fb4ac" transform="rotate(45 12.5 13.0)"/><rect x="-3.0" y="-2.5" width="7.0" height="11.0" fill="#2f8883"/><rect x="-1.3" y="-17.0" width="5.5" height="6.0" fill="#6ecac2"/><circle cx="5.0" cy="21.0" r="2" fill="#d06a40"/></g><g transform="translate(267.2,837.5) rotate(-20.1)" opacity="0.80"><rect x="-13.0" y="-18.0" width="26.0" height="36.0" fill="#48aaa2"/><rect x="-7.8" y="-21.8" width="15.5" height="15.5" fill="#5dbfb7" transform="rotate(45 0 -14.0)"/><rect x="4.8" y="5.2" width="15.5" height="15.5" fill="#4fb4ac" transform="rotate(45 12.5 13.0)"/><rect x="-3.0" y="-2.5" width="7.0" height="11.0" fill="#2f8883"/><rect x="-1.3" y="-17.0" width="5.5" height="6.0" fill="#6ecac2"/><circle cx="5.0" cy="21.0" r="2" fill="#d06a40"/></g><g transform="translate(290.8,828.9) rotate(-20.1)" opacity="0.60"><rect x="-13.0" y="-18.0" width="26.0" height="36.0" fill="#48aaa2"/><rect x="-7.8" y="-21.8" width="15.5" height="15.5" fill="#5dbfb7" transform="rotate(45 0 -14.0)"/><rect x="4.8" y="5.2" width="15.5" height="15.5" fill="#4fb4ac" transform="rotate(45 12.5 13.0)"/><rect x="-3.0" y="-2.5" width="7.0" height="11.0" fill="#2f8883"/><rect x="-1.3" y="-17.0" width="5.5" height="6.0" fill="#6ecac2"/><circle cx="5.0" cy="21.0" r="2" fill="#d06a40"/></g><g transform="translate(314.2,820.3) rotate(-20.1)" opacity="0.40"><rect x="-13.0" y="-18.0" width="26.0" height="36.0" fill="#48aaa2"/><rect x="-7.8" y="-21.8" width="15.5" height="15.5" fill="#5dbfb7" transform="rotate(45 0 -14.0)"/><rect x="4.8" y="5.2" width="15.5" height="15.5" fill="#4fb4ac" transform="rotate(45 12.5 13.0)"/><rect x="-3.0" y="-2.5" width="7.0" height="11.0" fill="#2f8883"/><rect x="-1.3" y="-17.0" width="5.5" height="6.0" fill="#6ecac2"/><circle cx="5.0" cy="21.0" r="2" fill="#d06a40"/></g><g transform="translate(263.9,936.3) rotate(-21.5)" opacity="1.00"><rect x="-13.3" y="-18.0" width="26.7" height="36.0" fill="#48aaa2"/><rect x="-8.0" y="-22.0" width="15.9" height="15.9" fill="#5dbfb7" transform="rotate(45 0 -14.0)"/><rect x="4.9" y="5.0" width="15.9" height="15.9" fill="#4fb4ac" transform="rotate(45 12.8 13.0)"/><rect x="-3.1" y="-2.5" width="7.2" height="11.0" fill="#2f8883"/><rect x="-1.3" y="-17.0" width="5.7" height="6.0" fill="#6ecac2"/><circle cx="5.1" cy="21.0" r="2" fill="#d06a40"/></g><g transform="translate(287.9,926.9) rotate(-21.5)" opacity="1.00"><rect x="-13.3" y="-18.0" width="26.7" height="36.0" fill="#48aaa2"/><rect x="-8.0" y="-22.0" width="15.9" height="15.9" fill="#5dbfb7" transform="rotate(45 0 -14.0)"/><rect x="4.9" y="5.0" width="15.9" height="15.9" fill="#4fb4ac" transform="rotate(45 12.8 13.0)"/><rect x="-3.1" y="-2.5" width="7.2" height="11.0" fill="#2f8883"/><rect x="-1.3" y="-17.0" width="5.7" height="6.0" fill="#6ecac2"/><circle cx="5.1" cy="21.0" r="2" fill="#d06a40"/></g><g transform="translate(311.8,917.5) rotate(-21.5)" opacity="1.00"><rect x="-13.3" y="-18.0" width="26.7" height="36.0" fill="#48aaa2"/><rect x="-8.0" y="-22.0" width="15.9" height="15.9" fill="#5dbfb7" transform="rotate(45 0 -14.0)"/><rect x="4.9" y="5.0" width="15.9" height="15.9" fill="#4fb4ac" transform="rotate(45 12.8 13.0)"/><rect x="-3.1" y="-2.5" width="7.2" height="11.0" fill="#2f8883"/><rect x="-1.3" y="-17.0" width="5.7" height="6.0" fill="#6ecac2"/><circle cx="5.1" cy="21.0" r="2" fill="#d06a40"/></g><g transform="translate(335.6,908.1) rotate(-21.5)" opacity="1.00"><rect x="-13.3" y="-18.0" width="26.7" height="36.0" fill="#48aaa2"/><rect x="-8.0" y="-22.0" width="15.9" height="15.9" fill="#5dbfb7" transform="rotate(45 0 -14.0)"/><rect x="4.9" y="5.0" width="15.9" height="15.9" fill="#4fb4ac" transform="rotate(45 12.8 13.0)"/><rect x="-3.1" y="-2.5" width="7.2" height="11.0" fill="#2f8883"/><rect x="-1.3" y="-17.0" width="5.7" height="6.0" fill="#6ecac2"/><circle cx="5.1" cy="21.0" r="2" fill="#d06a40"/></g><g transform="translate(359.6,898.7) rotate(-21.5)" opacity="1.00"><rect x="-13.3" y="-18.0" width="26.7" height="36.0" fill="#48aaa2"/><rect x="-8.0" y="-22.0" width="15.9" height="15.9" fill="#5dbfb7" transform="rotate(45 0 -14.0)"/><rect x="4.9" y="5.0" width="15.9" height="15.9" fill="#4fb4ac" transform="rotate(45 12.8 13.0)"/><rect x="-3.1" y="-2.5" width="7.2" height="11.0" fill="#2f8883"/><rect x="-1.3" y="-17.0" width="5.7" height="6.0" fill="#6ecac2"/><circle cx="5.1" cy="21.0" r="2" fill="#d06a40"/></g><g transform="translate(383.5,889.3) rotate(-21.5)" opacity="1.00"><rect x="-13.3" y="-18.0" width="26.7" height="36.0" fill="#48aaa2"/><rect x="-8.0" y="-22.0" width="15.9" height="15.9" fill="#5dbfb7" transform="rotate(45 0 -14.0)"/><rect x="4.9" y="5.0" width="15.9" height="15.9" fill="#4fb4ac" transform="rotate(45 12.8 13.0)"/><rect x="-3.1" y="-2.5" width="7.2" height="11.0" fill="#2f8883"/><rect x="-1.3" y="-17.0" width="5.7" height="6.0" fill="#6ecac2"/><circle cx="5.1" cy="21.0" r="2" fill="#d06a40"/></g><g transform="translate(407.4,879.9) rotate(-21.5)" opacity="1.00"><rect x="-13.3" y="-18.0" width="26.7" height="36.0" fill="#48aaa2"/><rect x="-8.0" y="-22.0" width="15.9" height="15.9" fill="#5dbfb7" transform="rotate(45 0 -14.0)"/><rect x="4.9" y="5.0" width="15.9" height="15.9" fill="#4fb4ac" transform="rotate(45 12.8 13.0)"/><rect x="-3.1" y="-2.5" width="7.2" height="11.0" fill="#2f8883"/><rect x="-1.3" y="-17.0" width="5.7" height="6.0" fill="#6ecac2"/><circle cx="5.1" cy="21.0" r="2" fill="#d06a40"/></g><g transform="translate(431.2,870.5) rotate(-21.5)" opacity="0.92"><rect x="-13.3" y="-18.0" width="26.7" height="36.0" fill="#48aaa2"/><rect x="-8.0" y="-22.0" width="15.9" height="15.9" fill="#5dbfb7" transform="rotate(45 0 -14.0)"/><rect x="4.9" y="5.0" width="15.9" height="15.9" fill="#4fb4ac" transform="rotate(45 12.8 13.0)"/><rect x="-3.1" y="-2.5" width="7.2" height="11.0" fill="#2f8883"/><rect x="-1.3" y="-17.0" width="5.7" height="6.0" fill="#6ecac2"/><circle cx="5.1" cy="21.0" r="2" fill="#d06a40"/></g><g transform="translate(455.1,861.1) rotate(-21.5)" opacity="0.68"><rect x="-13.3" y="-18.0" width="26.7" height="36.0" fill="#48aaa2"/><rect x="-8.0" y="-22.0" width="15.9" height="15.9" fill="#5dbfb7" transform="rotate(45 0 -14.0)"/><rect x="4.9" y="5.0" width="15.9" height="15.9" fill="#4fb4ac" transform="rotate(45 12.8 13.0)"/><rect x="-3.1" y="-2.5" width="7.2" height="11.0" fill="#2f8883"/><rect x="-1.3" y="-17.0" width="5.7" height="6.0" fill="#6ecac2"/><circle cx="5.1" cy="21.0" r="2" fill="#d06a40"/></g><g transform="translate(479.0,851.7) rotate(-21.5)" opacity="0.43"><rect x="-13.3" y="-18.0" width="26.7" height="36.0" fill="#48aaa2"/><rect x="-8.0" y="-22.0" width="15.9" height="15.9" fill="#5dbfb7" transform="rotate(45 0 -14.0)"/><rect x="4.9" y="5.0" width="15.9" height="15.9" fill="#4fb4ac" transform="rotate(45 12.8 13.0)"/><rect x="-3.1" y="-2.5" width="7.2" height="11.0" fill="#2f8883"/><rect x="-1.3" y="-17.0" width="5.7" height="6.0" fill="#6ecac2"/><circle cx="5.1" cy="21.0" r="2" fill="#d06a40"/></g></g><line x1="360" y1="977" x2="529" y2="1085" stroke="#111" stroke-width="2.4"/></svg>
</body></html>
